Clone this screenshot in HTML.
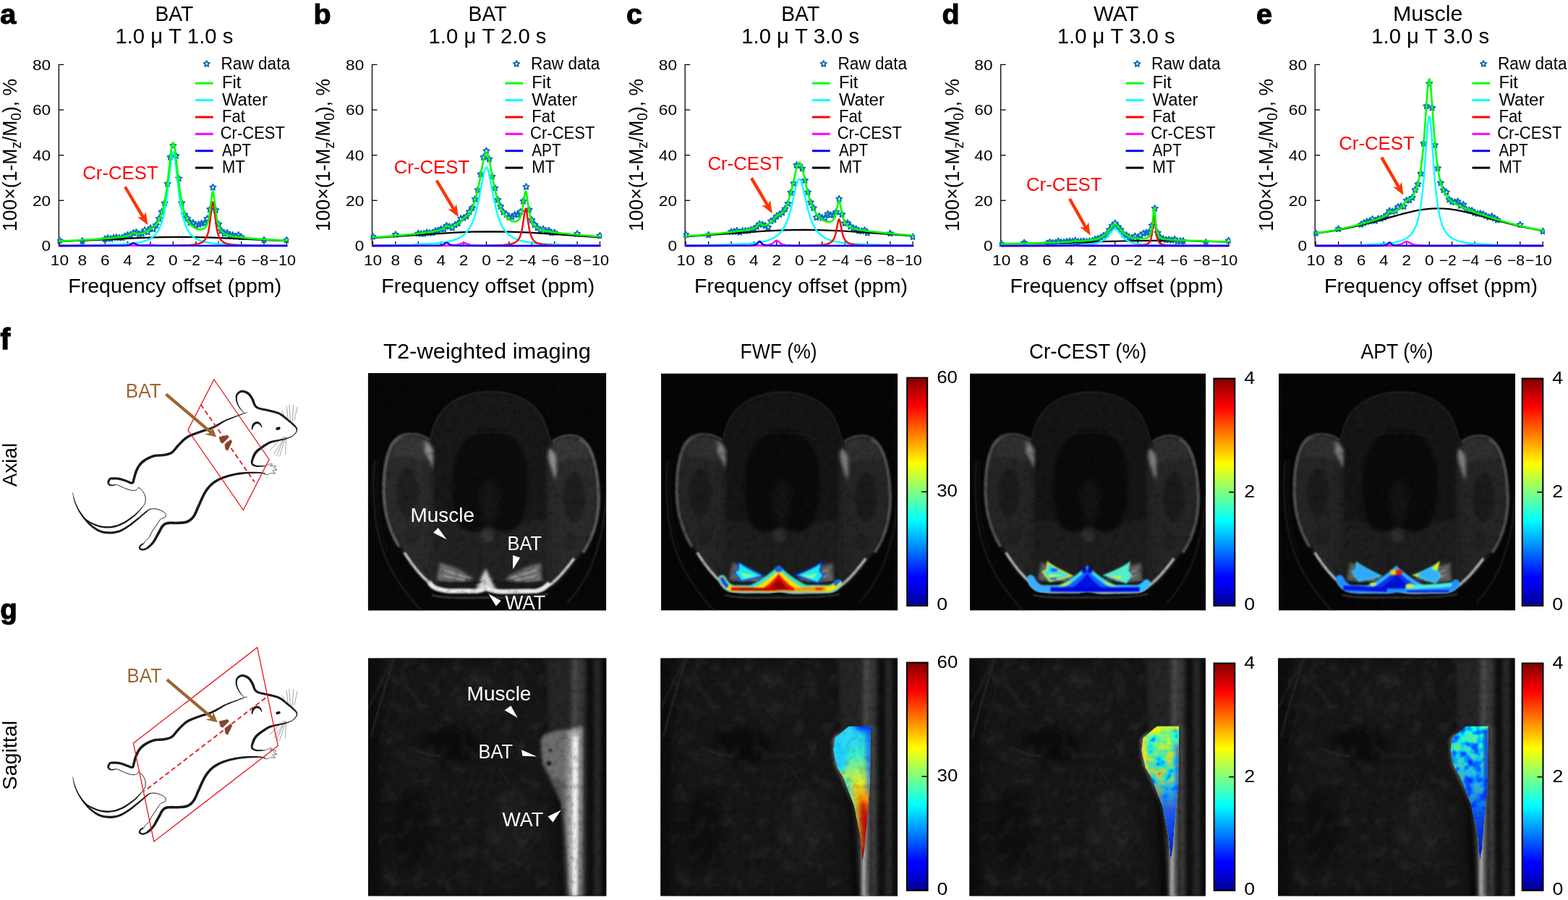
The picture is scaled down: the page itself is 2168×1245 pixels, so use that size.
<!DOCTYPE html>
<html><head><meta charset="utf-8"><style>
html,body{margin:0;padding:0;background:#fff;overflow:hidden;width:2168px;height:1245px;}
svg{display:block;}
text{font-family:"Liberation Sans","DejaVu Sans",sans-serif;}
</style></head><body>
<svg width="2168" height="1245" viewBox="0 0 2168 1245">
<defs><linearGradient id="jet" x1="0" y1="1" x2="0" y2="0"><stop offset="0" stop-color="#00008f"/><stop offset="0.11" stop-color="#0000ff"/><stop offset="0.125" stop-color="#0000ff"/><stop offset="0.375" stop-color="#00ffff"/><stop offset="0.625" stop-color="#ffff00"/><stop offset="0.875" stop-color="#ff0000"/><stop offset="1" stop-color="#800000"/></linearGradient></defs>
<rect width="2168" height="1245" fill="#fff"/>
<defs><path id="st" d="M0.0,-4.3 L1.2,-1.7 L4.1,-1.3 L2.0,0.6 L2.5,3.5 L0.0,2.1 L-2.5,3.5 L-2.0,0.6 L-4.1,-1.3 L-1.2,-1.7Z" fill="none" stroke="#0a6fbf" stroke-width="1.9" stroke-linejoin="round"/></defs><text x="0.3" y="33.2" font-size="39.5" font-weight="bold" stroke="#000" stroke-width="1.1">a</text>
<text x="240.9" y="29.0" font-size="29.5" text-anchor="middle" textLength="53.0" lengthAdjust="spacingAndGlyphs">BAT</text>
<text x="240.9" y="60.1" font-size="29.5" text-anchor="middle" textLength="163.0" lengthAdjust="spacingAndGlyphs">1.0 μ T 1.0 s</text>
<path d="M81.4,340.5 V89.3 h7" fill="none" stroke="#000" stroke-width="1.3"/>
<path d="M81.4,340.0 h7" stroke="#000" stroke-width="1.3"/>
<path d="M81.4,277.3 h7" stroke="#000" stroke-width="1.3"/>
<path d="M81.4,214.7 h7" stroke="#000" stroke-width="1.3"/>
<path d="M81.4,152.0 h7" stroke="#000" stroke-width="1.3"/>
<text x="70.2" y="347.2" font-size="20" text-anchor="end" textLength="12.6" lengthAdjust="spacingAndGlyphs">0</text>
<text x="70.2" y="284.5" font-size="20" text-anchor="end" textLength="25.2" lengthAdjust="spacingAndGlyphs">20</text>
<text x="70.2" y="221.8" font-size="20" text-anchor="end" textLength="25.2" lengthAdjust="spacingAndGlyphs">40</text>
<text x="70.2" y="159.2" font-size="20" text-anchor="end" textLength="25.2" lengthAdjust="spacingAndGlyphs">60</text>
<text x="70.2" y="96.5" font-size="20" text-anchor="end" textLength="25.2" lengthAdjust="spacingAndGlyphs">80</text>
<path d="M82.4,340.0 v-6" stroke="#000" stroke-width="1.3"/>
<text x="82.4" y="366.8" font-size="20" text-anchor="middle" textLength="25.2" lengthAdjust="spacingAndGlyphs">10</text>
<path d="M113.8,340.0 v-6" stroke="#000" stroke-width="1.3"/>
<text x="113.8" y="366.8" font-size="20" text-anchor="middle" textLength="12.6" lengthAdjust="spacingAndGlyphs">8</text>
<path d="M145.2,340.0 v-6" stroke="#000" stroke-width="1.3"/>
<text x="145.2" y="366.8" font-size="20" text-anchor="middle" textLength="12.6" lengthAdjust="spacingAndGlyphs">6</text>
<path d="M176.6,340.0 v-6" stroke="#000" stroke-width="1.3"/>
<text x="176.6" y="366.8" font-size="20" text-anchor="middle" textLength="12.6" lengthAdjust="spacingAndGlyphs">4</text>
<path d="M208.0,340.0 v-6" stroke="#000" stroke-width="1.3"/>
<text x="208.0" y="366.8" font-size="20" text-anchor="middle" textLength="12.6" lengthAdjust="spacingAndGlyphs">2</text>
<path d="M239.4,340.0 v-6" stroke="#000" stroke-width="1.3"/>
<text x="239.4" y="366.8" font-size="20" text-anchor="middle" textLength="12.6" lengthAdjust="spacingAndGlyphs">0</text>
<path d="M270.8,340.0 v-6" stroke="#000" stroke-width="1.3"/>
<text x="265.0" y="366.8" font-size="20" text-anchor="middle" textLength="24.1" lengthAdjust="spacingAndGlyphs">−2</text>
<path d="M302.2,340.0 v-6" stroke="#000" stroke-width="1.3"/>
<text x="296.4" y="366.8" font-size="20" text-anchor="middle" textLength="24.1" lengthAdjust="spacingAndGlyphs">−4</text>
<path d="M333.6,340.0 v-6" stroke="#000" stroke-width="1.3"/>
<text x="327.8" y="366.8" font-size="20" text-anchor="middle" textLength="24.1" lengthAdjust="spacingAndGlyphs">−6</text>
<path d="M365.0,340.0 v-6" stroke="#000" stroke-width="1.3"/>
<text x="359.2" y="366.8" font-size="20" text-anchor="middle" textLength="24.1" lengthAdjust="spacingAndGlyphs">−8</text>
<path d="M396.4,340.0 v-6" stroke="#000" stroke-width="1.3"/>
<text x="390.6" y="366.8" font-size="20" text-anchor="middle" textLength="36.7" lengthAdjust="spacingAndGlyphs">−10</text>
<text x="94.2" y="404.9" font-size="28" textLength="295.0" lengthAdjust="spacingAndGlyphs">Frequency offset (ppm)</text>
<text transform="translate(23.2,319.9) rotate(-90)" font-size="28"><tspan textLength="211" lengthAdjust="spacingAndGlyphs">100×(1-M<tspan font-size="20" dy="6">z</tspan><tspan dy="-6">/M</tspan><tspan font-size="20" dy="6">0</tspan><tspan dy="-6">), %</tspan></tspan></text>
<clipPath id="cpa"><rect x="79.4" y="80" width="319.8" height="264.0"/></clipPath>
<g clip-path="url(#cpa)" fill="none" stroke-linejoin="round" stroke-linecap="round">
<g><use href="#st" x="82.4" y="332.7"/><use href="#st" x="113.8" y="333.3"/><use href="#st" x="145.2" y="330.6"/><use href="#st" x="149.1" y="329.3"/><use href="#st" x="153.1" y="330.3"/><use href="#st" x="157.0" y="329.0"/><use href="#st" x="160.9" y="328.4"/><use href="#st" x="164.8" y="329.0"/><use href="#st" x="168.8" y="329.0"/><use href="#st" x="172.7" y="326.8"/><use href="#st" x="176.6" y="325.1"/><use href="#st" x="180.5" y="325.2"/><use href="#st" x="184.4" y="322.3"/><use href="#st" x="188.4" y="321.2"/><use href="#st" x="192.3" y="323.9"/><use href="#st" x="196.2" y="323.1"/><use href="#st" x="200.2" y="318.4"/><use href="#st" x="204.1" y="321.0"/><use href="#st" x="208.0" y="315.5"/><use href="#st" x="211.9" y="316.8"/><use href="#st" x="215.8" y="311.4"/><use href="#st" x="219.8" y="302.4"/><use href="#st" x="223.7" y="293.0"/><use href="#st" x="227.6" y="280.9"/><use href="#st" x="231.6" y="254.2"/><use href="#st" x="235.5" y="217.4"/><use href="#st" x="239.4" y="201.4"/><use href="#st" x="243.3" y="215.5"/><use href="#st" x="247.2" y="246.8"/><use href="#st" x="251.2" y="280.8"/><use href="#st" x="255.1" y="296.8"/><use href="#st" x="259.0" y="302.1"/><use href="#st" x="262.9" y="308.0"/><use href="#st" x="266.9" y="308.2"/><use href="#st" x="270.8" y="311.6"/><use href="#st" x="274.7" y="310.6"/><use href="#st" x="278.6" y="309.1"/><use href="#st" x="282.6" y="308.6"/><use href="#st" x="286.5" y="302.5"/><use href="#st" x="290.4" y="289.5"/><use href="#st" x="294.4" y="259.2"/><use href="#st" x="298.3" y="290.6"/><use href="#st" x="302.2" y="310.1"/><use href="#st" x="306.1" y="319.2"/><use href="#st" x="310.0" y="323.2"/><use href="#st" x="314.0" y="322.2"/><use href="#st" x="317.9" y="325.0"/><use href="#st" x="321.8" y="325.2"/><use href="#st" x="325.8" y="327.0"/><use href="#st" x="329.7" y="325.1"/><use href="#st" x="333.6" y="327.9"/><use href="#st" x="365.0" y="332.0"/><use href="#st" x="396.4" y="332.1"/></g>
<path d="M82.4,334.0 L117.7,332.6 L198.6,328.8 L222.9,328.1 L244.9,327.8 L268.4,328.0 L293.6,328.7 L396.4,333.4" stroke="#000" stroke-width="2.2"/>
<path d="M82.4,339.6 L119.3,339.3 L146.0,338.8 L165.6,338.1 L179.7,337.1 L190.7,335.7 L195.4,334.7 L199.4,333.7 L203.3,332.3 L206.4,330.9 L209.6,329.1 L211.9,327.3 L214.3,325.1 L215.8,323.3 L218.2,320.0 L219.8,317.3 L221.3,314.0 L222.9,310.0 L224.5,305.1 L226.1,299.2 L228.4,287.6 L230.8,272.1 L232.3,259.3 L235.5,230.6 L237.0,218.2 L237.8,213.8 L238.6,210.9 L239.4,209.9 L240.2,210.9 L241.0,213.8 L241.8,218.2 L243.3,230.6 L246.5,259.3 L248.0,272.1 L250.4,287.6 L252.7,299.2 L254.3,305.1 L255.9,310.0 L257.5,314.0 L259.0,317.3 L260.6,320.0 L262.9,323.3 L264.5,325.1 L266.9,327.3 L269.2,329.1 L272.4,330.9 L275.5,332.3 L279.4,333.7 L283.4,334.7 L288.1,335.7 L299.1,337.1 L313.2,338.1 L332.8,338.8 L359.5,339.3 L396.4,339.6" stroke="#00ffff" stroke-width="2.4"/>
<path d="M82.4,340.0 L195.4,339.9 L241.0,339.6 L253.5,339.3 L262.9,338.9 L270.0,338.2 L274.7,337.2 L278.6,335.7 L280.2,334.8 L281.8,333.6 L284.1,330.8 L285.7,327.9 L286.5,326.0 L288.1,320.6 L289.6,312.4 L292.8,286.6 L293.6,281.5 L294.4,279.5 L295.1,281.5 L295.9,286.6 L299.1,312.4 L299.8,316.9 L301.4,323.6 L303.0,327.9 L304.6,330.8 L306.9,333.6 L309.3,335.3 L312.4,336.7 L316.3,337.8 L321.8,338.5 L328.9,339.1 L350.9,339.6 L396.4,339.9" stroke="#ff0000" stroke-width="2.4"/>
<path d="M82.4,340.0 L189.2,339.9 L199.4,339.5 L208.0,338.4 L216.6,339.5 L229.2,339.9 L396.4,340.0" stroke="#ff00ff" stroke-width="2.4"/>
<path d="M82.4,340.0 L150.7,339.9 L170.3,339.7 L175.0,339.4 L178.2,338.9 L180.5,338.1 L183.7,336.4 L184.4,336.2 L185.2,336.4 L189.2,338.5 L191.5,339.1 L195.4,339.6 L202.5,339.8 L396.4,340.0" stroke="#0000ff" stroke-width="2.4"/>
<path d="M82.4,333.6 L111.4,332.2 L137.3,330.6 L157.8,328.9 L171.1,327.4 L175.0,326.6 L178.2,325.7 L180.5,324.6 L183.7,322.3 L184.4,322.0 L185.2,322.0 L188.4,323.2 L190.7,323.5 L193.9,323.2 L197.8,322.2 L200.9,321.0 L203.3,319.8 L211.1,314.9 L213.5,313.2 L215.8,310.8 L217.4,308.8 L219.8,304.9 L221.3,301.6 L222.9,297.6 L224.5,292.7 L226.8,283.3 L229.2,270.4 L230.8,259.6 L232.3,246.8 L235.5,218.1 L237.0,205.6 L237.8,201.2 L238.6,198.3 L239.4,197.3 L240.2,198.3 L241.0,201.1 L241.8,205.6 L243.3,217.9 L246.5,246.6 L248.0,259.3 L249.6,270.1 L252.0,282.8 L254.3,292.2 L255.9,297.0 L257.5,301.0 L259.0,304.2 L261.4,308.1 L262.9,310.1 L265.3,312.5 L267.7,314.4 L270.8,316.1 L273.9,317.2 L277.1,317.6 L279.4,317.3 L281.8,316.3 L283.4,315.0 L284.9,313.0 L286.5,309.8 L287.3,307.6 L288.9,301.3 L290.4,291.5 L292.8,271.6 L293.6,266.6 L294.4,264.8 L295.1,266.9 L295.9,272.1 L299.1,298.4 L299.8,303.0 L301.4,309.9 L303.0,314.4 L304.6,317.5 L306.9,320.6 L309.3,322.5 L312.4,324.3 L317.1,325.9 L323.4,327.2 L331.2,328.3 L342.2,329.4 L357.1,330.6 L396.4,332.9" stroke="#00ff00" stroke-width="2.6"/>
</g>
<use href="#st" x="285.7" y="88.3"/>
<text x="305.5" y="95.7" font-size="23" textLength="95.5" lengthAdjust="spacingAndGlyphs">Raw data</text>
<path d="M270.0,115.2 h24.7" stroke="#00ff00" stroke-width="3"/>
<text x="306.9" y="122.1" font-size="23" textLength="26.5" lengthAdjust="spacingAndGlyphs">Fit</text>
<path d="M270.0,138.6 h24.7" stroke="#00ffff" stroke-width="3"/>
<text x="306.9" y="145.5" font-size="23" textLength="63.0" lengthAdjust="spacingAndGlyphs">Water</text>
<path d="M270.0,162.0 h24.7" stroke="#ff0000" stroke-width="3"/>
<text x="306.9" y="168.9" font-size="23" textLength="32.0" lengthAdjust="spacingAndGlyphs">Fat</text>
<path d="M270.0,185.3 h24.7" stroke="#ff00ff" stroke-width="3"/>
<text x="304.7" y="192.2" font-size="23" textLength="89.3" lengthAdjust="spacingAndGlyphs">Cr-CEST</text>
<path d="M270.0,208.7 h24.7" stroke="#0000ff" stroke-width="3"/>
<text x="306.9" y="215.6" font-size="23" textLength="40.3" lengthAdjust="spacingAndGlyphs">APT</text>
<path d="M270.0,232.1 h24.7" stroke="#000000" stroke-width="3"/>
<text x="306.9" y="239.0" font-size="23" textLength="31.8" lengthAdjust="spacingAndGlyphs">MT</text>
<text x="114.2" y="248.4" font-size="26.5" textLength="104.5" lengthAdjust="spacingAndGlyphs" fill="#ff0000">Cr-CEST</text>
<polygon points="171.2,259.6 195.4,300.4 189.9,300.2 204.4,311.3 201.6,293.2 199.1,298.2 174.8,257.4" fill="#ff3300"/>
<text x="433.4" y="33.2" font-size="39.5" font-weight="bold" stroke="#000" stroke-width="1.1">b</text>
<text x="674.0" y="29.0" font-size="29.5" text-anchor="middle" textLength="53.0" lengthAdjust="spacingAndGlyphs">BAT</text>
<text x="674.0" y="60.1" font-size="29.5" text-anchor="middle" textLength="163.0" lengthAdjust="spacingAndGlyphs">1.0 μ T 2.0 s</text>
<path d="M514.5,340.5 V89.3 h7" fill="none" stroke="#000" stroke-width="1.3"/>
<path d="M514.5,340.0 h7" stroke="#000" stroke-width="1.3"/>
<path d="M514.5,277.3 h7" stroke="#000" stroke-width="1.3"/>
<path d="M514.5,214.7 h7" stroke="#000" stroke-width="1.3"/>
<path d="M514.5,152.0 h7" stroke="#000" stroke-width="1.3"/>
<text x="503.3" y="347.2" font-size="20" text-anchor="end" textLength="12.6" lengthAdjust="spacingAndGlyphs">0</text>
<text x="503.3" y="284.5" font-size="20" text-anchor="end" textLength="25.2" lengthAdjust="spacingAndGlyphs">20</text>
<text x="503.3" y="221.8" font-size="20" text-anchor="end" textLength="25.2" lengthAdjust="spacingAndGlyphs">40</text>
<text x="503.3" y="159.2" font-size="20" text-anchor="end" textLength="25.2" lengthAdjust="spacingAndGlyphs">60</text>
<text x="503.3" y="96.5" font-size="20" text-anchor="end" textLength="25.2" lengthAdjust="spacingAndGlyphs">80</text>
<path d="M515.5,340.0 v-6" stroke="#000" stroke-width="1.3"/>
<text x="515.5" y="366.8" font-size="20" text-anchor="middle" textLength="25.2" lengthAdjust="spacingAndGlyphs">10</text>
<path d="M546.9,340.0 v-6" stroke="#000" stroke-width="1.3"/>
<text x="546.9" y="366.8" font-size="20" text-anchor="middle" textLength="12.6" lengthAdjust="spacingAndGlyphs">8</text>
<path d="M578.3,340.0 v-6" stroke="#000" stroke-width="1.3"/>
<text x="578.3" y="366.8" font-size="20" text-anchor="middle" textLength="12.6" lengthAdjust="spacingAndGlyphs">6</text>
<path d="M609.7,340.0 v-6" stroke="#000" stroke-width="1.3"/>
<text x="609.7" y="366.8" font-size="20" text-anchor="middle" textLength="12.6" lengthAdjust="spacingAndGlyphs">4</text>
<path d="M641.1,340.0 v-6" stroke="#000" stroke-width="1.3"/>
<text x="641.1" y="366.8" font-size="20" text-anchor="middle" textLength="12.6" lengthAdjust="spacingAndGlyphs">2</text>
<path d="M672.5,340.0 v-6" stroke="#000" stroke-width="1.3"/>
<text x="672.5" y="366.8" font-size="20" text-anchor="middle" textLength="12.6" lengthAdjust="spacingAndGlyphs">0</text>
<path d="M703.9,340.0 v-6" stroke="#000" stroke-width="1.3"/>
<text x="698.1" y="366.8" font-size="20" text-anchor="middle" textLength="24.1" lengthAdjust="spacingAndGlyphs">−2</text>
<path d="M735.3,340.0 v-6" stroke="#000" stroke-width="1.3"/>
<text x="729.5" y="366.8" font-size="20" text-anchor="middle" textLength="24.1" lengthAdjust="spacingAndGlyphs">−4</text>
<path d="M766.7,340.0 v-6" stroke="#000" stroke-width="1.3"/>
<text x="760.9" y="366.8" font-size="20" text-anchor="middle" textLength="24.1" lengthAdjust="spacingAndGlyphs">−6</text>
<path d="M798.1,340.0 v-6" stroke="#000" stroke-width="1.3"/>
<text x="792.3" y="366.8" font-size="20" text-anchor="middle" textLength="24.1" lengthAdjust="spacingAndGlyphs">−8</text>
<path d="M829.5,340.0 v-6" stroke="#000" stroke-width="1.3"/>
<text x="823.7" y="366.8" font-size="20" text-anchor="middle" textLength="36.7" lengthAdjust="spacingAndGlyphs">−10</text>
<text x="527.3" y="404.9" font-size="28" textLength="295.0" lengthAdjust="spacingAndGlyphs">Frequency offset (ppm)</text>
<text transform="translate(456.3,319.9) rotate(-90)" font-size="28"><tspan textLength="211" lengthAdjust="spacingAndGlyphs">100×(1-M<tspan font-size="20" dy="6">z</tspan><tspan dy="-6">/M</tspan><tspan font-size="20" dy="6">0</tspan><tspan dy="-6">), %</tspan></tspan></text>
<clipPath id="cpb"><rect x="512.5" y="80" width="319.8" height="264.0"/></clipPath>
<g clip-path="url(#cpb)" fill="none" stroke-linejoin="round" stroke-linecap="round">
<g><use href="#st" x="515.5" y="327.2"/><use href="#st" x="546.9" y="324.5"/><use href="#st" x="578.3" y="322.9"/><use href="#st" x="582.2" y="323.4"/><use href="#st" x="586.1" y="323.3"/><use href="#st" x="590.1" y="321.5"/><use href="#st" x="594.0" y="322.1"/><use href="#st" x="597.9" y="322.0"/><use href="#st" x="601.9" y="319.4"/><use href="#st" x="605.8" y="318.7"/><use href="#st" x="609.7" y="317.0"/><use href="#st" x="613.6" y="316.8"/><use href="#st" x="617.5" y="312.2"/><use href="#st" x="621.5" y="313.5"/><use href="#st" x="625.4" y="315.2"/><use href="#st" x="629.3" y="311.1"/><use href="#st" x="633.2" y="309.0"/><use href="#st" x="637.2" y="302.4"/><use href="#st" x="641.1" y="301.5"/><use href="#st" x="645.0" y="299.2"/><use href="#st" x="649.0" y="292.8"/><use href="#st" x="652.9" y="287.5"/><use href="#st" x="656.8" y="275.4"/><use href="#st" x="660.7" y="262.8"/><use href="#st" x="664.6" y="241.0"/><use href="#st" x="668.6" y="217.5"/><use href="#st" x="672.5" y="208.7"/><use href="#st" x="676.4" y="220.1"/><use href="#st" x="680.4" y="244.2"/><use href="#st" x="684.3" y="260.2"/><use href="#st" x="688.2" y="276.3"/><use href="#st" x="692.1" y="285.5"/><use href="#st" x="696.0" y="293.4"/><use href="#st" x="700.0" y="296.4"/><use href="#st" x="703.9" y="300.4"/><use href="#st" x="707.8" y="300.0"/><use href="#st" x="711.8" y="297.0"/><use href="#st" x="715.7" y="297.0"/><use href="#st" x="719.6" y="292.9"/><use href="#st" x="723.5" y="278.2"/><use href="#st" x="727.5" y="258.4"/><use href="#st" x="731.4" y="290.0"/><use href="#st" x="735.3" y="304.3"/><use href="#st" x="739.2" y="310.7"/><use href="#st" x="743.1" y="315.1"/><use href="#st" x="747.1" y="318.6"/><use href="#st" x="751.0" y="316.8"/><use href="#st" x="754.9" y="319.5"/><use href="#st" x="758.9" y="319.0"/><use href="#st" x="762.8" y="322.1"/><use href="#st" x="766.7" y="321.7"/><use href="#st" x="798.1" y="323.4"/><use href="#st" x="829.5" y="325.9"/></g>
<path d="M515.5,329.2 L626.2,321.9 L652.9,320.7 L678.0,320.3 L703.9,320.6 L731.4,321.7 L757.3,323.3 L829.5,328.3" stroke="#000" stroke-width="2.2"/>
<path d="M515.5,339.3 L547.7,338.9 L571.2,338.4 L590.1,337.5 L604.2,336.5 L616.0,334.9 L620.7,334.0 L625.4,332.8 L629.3,331.5 L632.5,330.3 L635.6,328.7 L638.7,326.8 L641.1,325.0 L643.5,322.9 L645.8,320.3 L648.2,317.2 L650.5,313.3 L652.1,310.2 L655.2,302.5 L658.4,292.1 L660.7,282.3 L663.1,270.6 L667.8,244.9 L669.4,238.0 L670.9,233.2 L671.7,232.0 L672.5,231.6 L673.3,232.0 L674.1,233.2 L675.6,238.0 L677.2,244.9 L681.9,270.6 L684.3,282.3 L686.6,292.1 L689.8,302.5 L692.9,310.2 L694.5,313.3 L696.8,317.2 L699.2,320.3 L701.5,322.9 L703.9,325.0 L706.3,326.8 L709.4,328.7 L712.5,330.3 L715.7,331.5 L719.6,332.8 L724.3,334.0 L729.0,334.9 L740.8,336.5 L754.9,337.5 L773.8,338.4 L797.3,338.9 L829.5,339.3" stroke="#00ffff" stroke-width="2.4"/>
<path d="M515.5,340.0 L627.0,339.9 L672.5,339.7 L685.8,339.4 L695.3,339.0 L702.3,338.3 L707.0,337.5 L711.0,336.2 L714.1,334.3 L716.5,331.9 L718.0,329.4 L718.8,327.8 L720.4,323.3 L722.0,316.5 L723.5,306.7 L725.1,295.3 L725.9,290.8 L726.7,288.7 L727.5,289.6 L728.2,293.3 L731.4,314.8 L732.2,318.8 L733.7,324.8 L735.3,328.8 L736.9,331.5 L739.2,334.1 L740.8,335.2 L742.4,336.1 L745.5,337.2 L750.2,338.2 L755.7,338.8 L762.8,339.2 L784.8,339.7 L829.5,339.9" stroke="#ff0000" stroke-width="2.4"/>
<path d="M515.5,340.0 L595.6,339.9 L620.7,339.6 L627.0,339.3 L631.7,338.7 L634.8,338.0 L639.5,336.2 L641.1,335.9 L642.7,336.2 L648.2,338.2 L651.3,338.9 L656.8,339.4 L664.6,339.7 L699.2,340.0 L829.5,340.0" stroke="#ff00ff" stroke-width="2.4"/>
<path d="M515.5,340.0 L585.4,339.9 L604.2,339.7 L608.9,339.4 L612.1,338.7 L613.6,338.0 L616.8,335.8 L617.5,335.6 L618.3,335.8 L621.5,338.0 L623.8,338.9 L627.8,339.5 L634.8,339.8 L667.0,340.0 L829.5,340.0" stroke="#0000ff" stroke-width="2.4"/>
<path d="M515.5,328.5 L540.6,326.6 L563.4,324.6 L582.2,322.6 L597.1,320.5 L605.0,319.0 L610.5,317.4 L612.1,316.7 L613.6,315.7 L616.8,312.7 L617.5,312.3 L618.3,312.3 L621.5,313.5 L623.0,313.7 L624.6,313.5 L627.0,312.9 L629.3,311.9 L633.2,309.5 L635.6,307.5 L641.1,301.9 L645.8,298.5 L648.2,296.0 L649.7,293.9 L651.3,291.2 L654.4,284.3 L657.6,274.8 L660.7,262.1 L663.1,250.5 L667.8,224.8 L669.4,217.8 L670.9,213.0 L671.7,211.8 L672.5,211.3 L673.3,211.8 L674.1,213.0 L675.6,217.7 L677.2,224.7 L681.9,250.3 L684.3,261.9 L686.6,271.7 L689.0,279.7 L692.1,287.9 L695.3,294.0 L696.8,296.4 L699.2,299.4 L700.8,301.1 L703.1,303.1 L705.5,304.7 L707.8,305.8 L710.2,306.4 L711.8,306.6 L713.3,306.4 L714.9,305.8 L716.5,304.7 L718.0,302.8 L719.6,299.7 L721.2,294.6 L722.7,286.8 L725.1,270.8 L725.9,266.5 L726.7,264.6 L727.5,265.7 L728.2,269.6 L731.4,291.7 L732.2,295.9 L733.7,302.3 L735.3,306.5 L736.9,309.5 L739.2,312.5 L742.4,315.0 L746.3,316.9 L751.0,318.5 L757.3,319.9 L765.9,321.3 L777.7,322.8 L792.6,324.3 L829.5,327.5" stroke="#00ff00" stroke-width="2.6"/>
</g>
<use href="#st" x="714.1" y="88.3"/>
<text x="733.9" y="95.7" font-size="23" textLength="95.5" lengthAdjust="spacingAndGlyphs">Raw data</text>
<path d="M698.4,115.2 h24.7" stroke="#00ff00" stroke-width="3"/>
<text x="735.3" y="122.1" font-size="23" textLength="26.5" lengthAdjust="spacingAndGlyphs">Fit</text>
<path d="M698.4,138.6 h24.7" stroke="#00ffff" stroke-width="3"/>
<text x="735.3" y="145.5" font-size="23" textLength="63.0" lengthAdjust="spacingAndGlyphs">Water</text>
<path d="M698.4,162.0 h24.7" stroke="#ff0000" stroke-width="3"/>
<text x="735.3" y="168.9" font-size="23" textLength="32.0" lengthAdjust="spacingAndGlyphs">Fat</text>
<path d="M698.4,185.3 h24.7" stroke="#ff00ff" stroke-width="3"/>
<text x="733.1" y="192.2" font-size="23" textLength="89.3" lengthAdjust="spacingAndGlyphs">Cr-CEST</text>
<path d="M698.4,208.7 h24.7" stroke="#0000ff" stroke-width="3"/>
<text x="735.3" y="215.6" font-size="23" textLength="40.3" lengthAdjust="spacingAndGlyphs">APT</text>
<path d="M698.4,232.1 h24.7" stroke="#000000" stroke-width="3"/>
<text x="735.3" y="239.0" font-size="23" textLength="31.8" lengthAdjust="spacingAndGlyphs">MT</text>
<text x="544.7" y="240.2" font-size="26.5" textLength="104.5" lengthAdjust="spacingAndGlyphs" fill="#ff0000">Cr-CEST</text>
<polygon points="601.9,250.8 625.0,289.4 619.4,289.2 634.0,300.3 631.1,282.2 628.7,287.2 605.5,248.6" fill="#ff3300"/>
<text x="866.1" y="33.2" font-size="39.5" font-weight="bold" stroke="#000" stroke-width="1.1">c</text>
<text x="1106.7" y="29.0" font-size="29.5" text-anchor="middle" textLength="53.0" lengthAdjust="spacingAndGlyphs">BAT</text>
<text x="1106.7" y="60.1" font-size="29.5" text-anchor="middle" textLength="163.0" lengthAdjust="spacingAndGlyphs">1.0 μ T 3.0 s</text>
<path d="M947.2,340.5 V89.3 h7" fill="none" stroke="#000" stroke-width="1.3"/>
<path d="M947.2,340.0 h7" stroke="#000" stroke-width="1.3"/>
<path d="M947.2,277.3 h7" stroke="#000" stroke-width="1.3"/>
<path d="M947.2,214.7 h7" stroke="#000" stroke-width="1.3"/>
<path d="M947.2,152.0 h7" stroke="#000" stroke-width="1.3"/>
<text x="936.0" y="347.2" font-size="20" text-anchor="end" textLength="12.6" lengthAdjust="spacingAndGlyphs">0</text>
<text x="936.0" y="284.5" font-size="20" text-anchor="end" textLength="25.2" lengthAdjust="spacingAndGlyphs">20</text>
<text x="936.0" y="221.8" font-size="20" text-anchor="end" textLength="25.2" lengthAdjust="spacingAndGlyphs">40</text>
<text x="936.0" y="159.2" font-size="20" text-anchor="end" textLength="25.2" lengthAdjust="spacingAndGlyphs">60</text>
<text x="936.0" y="96.5" font-size="20" text-anchor="end" textLength="25.2" lengthAdjust="spacingAndGlyphs">80</text>
<path d="M948.2,340.0 v-6" stroke="#000" stroke-width="1.3"/>
<text x="948.2" y="366.8" font-size="20" text-anchor="middle" textLength="25.2" lengthAdjust="spacingAndGlyphs">10</text>
<path d="M979.6,340.0 v-6" stroke="#000" stroke-width="1.3"/>
<text x="979.6" y="366.8" font-size="20" text-anchor="middle" textLength="12.6" lengthAdjust="spacingAndGlyphs">8</text>
<path d="M1011.0,340.0 v-6" stroke="#000" stroke-width="1.3"/>
<text x="1011.0" y="366.8" font-size="20" text-anchor="middle" textLength="12.6" lengthAdjust="spacingAndGlyphs">6</text>
<path d="M1042.4,340.0 v-6" stroke="#000" stroke-width="1.3"/>
<text x="1042.4" y="366.8" font-size="20" text-anchor="middle" textLength="12.6" lengthAdjust="spacingAndGlyphs">4</text>
<path d="M1073.8,340.0 v-6" stroke="#000" stroke-width="1.3"/>
<text x="1073.8" y="366.8" font-size="20" text-anchor="middle" textLength="12.6" lengthAdjust="spacingAndGlyphs">2</text>
<path d="M1105.2,340.0 v-6" stroke="#000" stroke-width="1.3"/>
<text x="1105.2" y="366.8" font-size="20" text-anchor="middle" textLength="12.6" lengthAdjust="spacingAndGlyphs">0</text>
<path d="M1136.6,340.0 v-6" stroke="#000" stroke-width="1.3"/>
<text x="1130.8" y="366.8" font-size="20" text-anchor="middle" textLength="24.1" lengthAdjust="spacingAndGlyphs">−2</text>
<path d="M1168.0,340.0 v-6" stroke="#000" stroke-width="1.3"/>
<text x="1162.2" y="366.8" font-size="20" text-anchor="middle" textLength="24.1" lengthAdjust="spacingAndGlyphs">−4</text>
<path d="M1199.4,340.0 v-6" stroke="#000" stroke-width="1.3"/>
<text x="1193.6" y="366.8" font-size="20" text-anchor="middle" textLength="24.1" lengthAdjust="spacingAndGlyphs">−6</text>
<path d="M1230.8,340.0 v-6" stroke="#000" stroke-width="1.3"/>
<text x="1225.0" y="366.8" font-size="20" text-anchor="middle" textLength="24.1" lengthAdjust="spacingAndGlyphs">−8</text>
<path d="M1262.2,340.0 v-6" stroke="#000" stroke-width="1.3"/>
<text x="1256.4" y="366.8" font-size="20" text-anchor="middle" textLength="36.7" lengthAdjust="spacingAndGlyphs">−10</text>
<text x="960.0" y="404.9" font-size="28" textLength="295.0" lengthAdjust="spacingAndGlyphs">Frequency offset (ppm)</text>
<text transform="translate(889.0,319.9) rotate(-90)" font-size="28"><tspan textLength="211" lengthAdjust="spacingAndGlyphs">100×(1-M<tspan font-size="20" dy="6">z</tspan><tspan dy="-6">/M</tspan><tspan font-size="20" dy="6">0</tspan><tspan dy="-6">), %</tspan></tspan></text>
<clipPath id="cpc"><rect x="945.2" y="80" width="319.8" height="264.0"/></clipPath>
<g clip-path="url(#cpc)" fill="none" stroke-linejoin="round" stroke-linecap="round">
<g><use href="#st" x="948.2" y="324.4"/><use href="#st" x="979.6" y="325.0"/><use href="#st" x="1011.0" y="320.6"/><use href="#st" x="1014.9" y="320.4"/><use href="#st" x="1018.9" y="319.1"/><use href="#st" x="1022.8" y="321.3"/><use href="#st" x="1026.7" y="319.5"/><use href="#st" x="1030.6" y="319.3"/><use href="#st" x="1034.5" y="319.1"/><use href="#st" x="1038.5" y="317.9"/><use href="#st" x="1042.4" y="316.4"/><use href="#st" x="1046.3" y="313.7"/><use href="#st" x="1050.2" y="309.8"/><use href="#st" x="1054.2" y="310.7"/><use href="#st" x="1058.1" y="312.2"/><use href="#st" x="1062.0" y="314.5"/><use href="#st" x="1066.0" y="305.9"/><use href="#st" x="1069.9" y="303.8"/><use href="#st" x="1073.8" y="299.1"/><use href="#st" x="1077.7" y="296.6"/><use href="#st" x="1081.7" y="294.2"/><use href="#st" x="1085.6" y="288.8"/><use href="#st" x="1089.5" y="281.5"/><use href="#st" x="1093.4" y="266.3"/><use href="#st" x="1097.4" y="253.7"/><use href="#st" x="1101.3" y="228.4"/><use href="#st" x="1105.2" y="228.7"/><use href="#st" x="1109.1" y="233.1"/><use href="#st" x="1113.0" y="249.5"/><use href="#st" x="1117.0" y="265.9"/><use href="#st" x="1120.9" y="279.9"/><use href="#st" x="1124.8" y="287.7"/><use href="#st" x="1128.8" y="300.8"/><use href="#st" x="1132.7" y="299.1"/><use href="#st" x="1136.6" y="301.3"/><use href="#st" x="1140.5" y="301.7"/><use href="#st" x="1144.5" y="296.0"/><use href="#st" x="1148.4" y="297.4"/><use href="#st" x="1152.3" y="297.1"/><use href="#st" x="1156.2" y="293.2"/><use href="#st" x="1160.2" y="275.2"/><use href="#st" x="1164.1" y="296.6"/><use href="#st" x="1168.0" y="308.8"/><use href="#st" x="1171.9" y="308.5"/><use href="#st" x="1175.8" y="313.2"/><use href="#st" x="1179.8" y="315.7"/><use href="#st" x="1183.7" y="316.6"/><use href="#st" x="1187.6" y="319.5"/><use href="#st" x="1191.5" y="319.7"/><use href="#st" x="1195.5" y="318.5"/><use href="#st" x="1199.4" y="322.1"/><use href="#st" x="1230.8" y="322.8"/><use href="#st" x="1262.2" y="327.7"/></g>
<path d="M948.2,327.5 L1033.0,321.3 L1057.3,319.7 L1084.8,318.4 L1110.7,317.9 L1137.4,318.3 L1165.6,319.5 L1193.1,321.3 L1262.2,326.4" stroke="#000" stroke-width="2.2"/>
<path d="M948.2,339.4 L980.4,339.0 L1003.9,338.5 L1022.0,337.8 L1036.1,336.9 L1047.1,335.6 L1056.5,333.9 L1060.5,332.9 L1064.4,331.5 L1067.5,330.2 L1070.7,328.6 L1075.4,325.3 L1077.7,323.2 L1080.1,320.6 L1082.4,317.4 L1084.0,314.9 L1087.1,308.6 L1090.3,300.3 L1092.6,292.4 L1095.0,283.0 L1099.7,261.7 L1101.3,255.3 L1102.8,250.5 L1103.6,248.9 L1104.4,247.9 L1105.2,247.6 L1106.0,247.9 L1106.8,248.9 L1107.6,250.5 L1109.1,255.3 L1110.7,261.7 L1115.4,283.0 L1117.8,292.4 L1120.1,300.3 L1123.3,308.6 L1126.4,314.9 L1128.0,317.4 L1130.3,320.6 L1132.7,323.2 L1135.0,325.3 L1139.7,328.6 L1142.9,330.2 L1146.0,331.5 L1149.9,332.9 L1153.9,333.9 L1163.3,335.6 L1174.3,336.9 L1188.4,337.8 L1206.5,338.5 L1230.0,339.0 L1262.2,339.4" stroke="#00ffff" stroke-width="2.4"/>
<path d="M948.2,340.0 L1106.8,339.8 L1128.8,339.3 L1135.8,338.9 L1140.5,338.3 L1144.5,337.4 L1147.6,336.1 L1149.9,334.4 L1151.5,332.7 L1152.3,331.5 L1153.9,328.2 L1155.4,323.3 L1158.6,307.6 L1159.4,304.5 L1160.2,303.3 L1160.9,304.5 L1161.7,307.6 L1164.9,323.3 L1165.6,326.0 L1167.2,330.0 L1168.8,332.7 L1170.4,334.4 L1172.7,336.1 L1175.1,337.2 L1178.2,338.0 L1182.1,338.6 L1187.6,339.1 L1194.7,339.4 L1216.7,339.8 L1262.2,339.9" stroke="#ff0000" stroke-width="2.4"/>
<path d="M948.2,340.0 L1031.4,339.9 L1047.1,339.7 L1055.7,339.5 L1062.0,338.9 L1066.0,337.9 L1067.5,337.1 L1069.1,336.1 L1072.2,333.4 L1073.0,333.0 L1073.8,332.8 L1074.6,333.0 L1075.4,333.4 L1079.3,336.7 L1082.4,338.1 L1087.1,339.1 L1094.2,339.6 L1126.4,339.9 L1262.2,340.0" stroke="#ff00ff" stroke-width="2.4"/>
<path d="M948.2,340.0 L1020.4,339.9 L1038.5,339.6 L1042.4,339.1 L1044.0,338.7 L1045.5,338.1 L1047.1,336.9 L1049.5,334.1 L1050.2,333.7 L1051.0,334.1 L1054.2,337.6 L1055.7,338.5 L1057.3,339.0 L1059.7,339.4 L1066.0,339.8 L1096.6,340.0 L1262.2,340.0" stroke="#0000ff" stroke-width="2.4"/>
<path d="M948.2,326.8 L972.5,324.9 L995.3,322.8 L1014.1,320.7 L1029.1,318.7 L1037.7,317.1 L1040.8,316.3 L1043.2,315.4 L1044.8,314.6 L1046.3,313.4 L1049.5,309.2 L1050.2,308.6 L1051.0,308.8 L1053.4,310.9 L1054.2,311.3 L1055.0,311.6 L1056.5,311.7 L1058.1,311.5 L1060.5,310.8 L1064.4,308.8 L1066.7,307.0 L1068.3,305.3 L1072.2,299.7 L1073.8,298.0 L1075.4,297.3 L1078.5,296.9 L1080.1,296.1 L1081.7,294.7 L1084.0,291.7 L1086.4,287.5 L1089.5,279.9 L1092.6,269.8 L1095.0,260.5 L1100.5,235.9 L1102.1,230.2 L1103.6,226.4 L1104.4,225.4 L1105.2,225.1 L1106.0,225.4 L1106.8,226.4 L1107.6,228.0 L1109.1,232.8 L1117.0,266.8 L1119.3,275.2 L1122.5,284.1 L1125.6,290.8 L1128.8,295.8 L1130.3,297.9 L1132.7,300.4 L1136.6,303.6 L1139.0,304.9 L1141.3,306.0 L1143.7,306.7 L1145.2,306.9 L1146.8,306.9 L1148.4,306.6 L1149.9,306.0 L1151.5,304.7 L1153.1,302.6 L1154.7,299.0 L1156.2,293.3 L1158.6,281.6 L1159.4,278.6 L1160.2,277.6 L1160.9,279.0 L1161.7,282.3 L1164.9,298.5 L1165.6,301.4 L1167.2,305.7 L1168.8,308.6 L1170.4,310.7 L1172.7,312.7 L1175.8,314.5 L1179.8,315.9 L1184.5,317.1 L1191.5,318.4 L1200.2,319.7 L1226.9,322.6 L1262.2,325.7" stroke="#00ff00" stroke-width="2.6"/>
</g>
<use href="#st" x="1138.7" y="88.3"/>
<text x="1158.5" y="95.7" font-size="23" textLength="95.5" lengthAdjust="spacingAndGlyphs">Raw data</text>
<path d="M1123.0,115.2 h24.7" stroke="#00ff00" stroke-width="3"/>
<text x="1159.9" y="122.1" font-size="23" textLength="26.5" lengthAdjust="spacingAndGlyphs">Fit</text>
<path d="M1123.0,138.6 h24.7" stroke="#00ffff" stroke-width="3"/>
<text x="1159.9" y="145.5" font-size="23" textLength="63.0" lengthAdjust="spacingAndGlyphs">Water</text>
<path d="M1123.0,162.0 h24.7" stroke="#ff0000" stroke-width="3"/>
<text x="1159.9" y="168.9" font-size="23" textLength="32.0" lengthAdjust="spacingAndGlyphs">Fat</text>
<path d="M1123.0,185.3 h24.7" stroke="#ff00ff" stroke-width="3"/>
<text x="1157.7" y="192.2" font-size="23" textLength="89.3" lengthAdjust="spacingAndGlyphs">Cr-CEST</text>
<path d="M1123.0,208.7 h24.7" stroke="#0000ff" stroke-width="3"/>
<text x="1159.9" y="215.6" font-size="23" textLength="40.3" lengthAdjust="spacingAndGlyphs">APT</text>
<path d="M1123.0,232.1 h24.7" stroke="#000000" stroke-width="3"/>
<text x="1159.9" y="239.0" font-size="23" textLength="31.8" lengthAdjust="spacingAndGlyphs">MT</text>
<text x="978.4" y="235.0" font-size="26.5" textLength="104.5" lengthAdjust="spacingAndGlyphs" fill="#ff0000">Cr-CEST</text>
<polygon points="1037.1,247.4 1058.8,284.2 1053.3,284.0 1067.8,295.2 1065.0,277.1 1062.5,282.0 1040.9,245.2" fill="#ff3300"/>
<text x="1302.6" y="33.2" font-size="39.5" font-weight="bold" stroke="#000" stroke-width="1.1">d</text>
<text x="1543.2" y="29.0" font-size="29.5" text-anchor="middle" textLength="62.5" lengthAdjust="spacingAndGlyphs">WAT</text>
<text x="1543.2" y="60.1" font-size="29.5" text-anchor="middle" textLength="163.0" lengthAdjust="spacingAndGlyphs">1.0 μ T 3.0 s</text>
<path d="M1383.7,340.5 V89.3 h7" fill="none" stroke="#000" stroke-width="1.3"/>
<path d="M1383.7,340.0 h7" stroke="#000" stroke-width="1.3"/>
<path d="M1383.7,277.3 h7" stroke="#000" stroke-width="1.3"/>
<path d="M1383.7,214.7 h7" stroke="#000" stroke-width="1.3"/>
<path d="M1383.7,152.0 h7" stroke="#000" stroke-width="1.3"/>
<text x="1372.5" y="347.2" font-size="20" text-anchor="end" textLength="12.6" lengthAdjust="spacingAndGlyphs">0</text>
<text x="1372.5" y="284.5" font-size="20" text-anchor="end" textLength="25.2" lengthAdjust="spacingAndGlyphs">20</text>
<text x="1372.5" y="221.8" font-size="20" text-anchor="end" textLength="25.2" lengthAdjust="spacingAndGlyphs">40</text>
<text x="1372.5" y="159.2" font-size="20" text-anchor="end" textLength="25.2" lengthAdjust="spacingAndGlyphs">60</text>
<text x="1372.5" y="96.5" font-size="20" text-anchor="end" textLength="25.2" lengthAdjust="spacingAndGlyphs">80</text>
<path d="M1384.7,340.0 v-6" stroke="#000" stroke-width="1.3"/>
<text x="1384.7" y="366.8" font-size="20" text-anchor="middle" textLength="25.2" lengthAdjust="spacingAndGlyphs">10</text>
<path d="M1416.1,340.0 v-6" stroke="#000" stroke-width="1.3"/>
<text x="1416.1" y="366.8" font-size="20" text-anchor="middle" textLength="12.6" lengthAdjust="spacingAndGlyphs">8</text>
<path d="M1447.5,340.0 v-6" stroke="#000" stroke-width="1.3"/>
<text x="1447.5" y="366.8" font-size="20" text-anchor="middle" textLength="12.6" lengthAdjust="spacingAndGlyphs">6</text>
<path d="M1478.9,340.0 v-6" stroke="#000" stroke-width="1.3"/>
<text x="1478.9" y="366.8" font-size="20" text-anchor="middle" textLength="12.6" lengthAdjust="spacingAndGlyphs">4</text>
<path d="M1510.3,340.0 v-6" stroke="#000" stroke-width="1.3"/>
<text x="1510.3" y="366.8" font-size="20" text-anchor="middle" textLength="12.6" lengthAdjust="spacingAndGlyphs">2</text>
<path d="M1541.7,340.0 v-6" stroke="#000" stroke-width="1.3"/>
<text x="1541.7" y="366.8" font-size="20" text-anchor="middle" textLength="12.6" lengthAdjust="spacingAndGlyphs">0</text>
<path d="M1573.1,340.0 v-6" stroke="#000" stroke-width="1.3"/>
<text x="1567.3" y="366.8" font-size="20" text-anchor="middle" textLength="24.1" lengthAdjust="spacingAndGlyphs">−2</text>
<path d="M1604.5,340.0 v-6" stroke="#000" stroke-width="1.3"/>
<text x="1598.7" y="366.8" font-size="20" text-anchor="middle" textLength="24.1" lengthAdjust="spacingAndGlyphs">−4</text>
<path d="M1635.9,340.0 v-6" stroke="#000" stroke-width="1.3"/>
<text x="1630.1" y="366.8" font-size="20" text-anchor="middle" textLength="24.1" lengthAdjust="spacingAndGlyphs">−6</text>
<path d="M1667.3,340.0 v-6" stroke="#000" stroke-width="1.3"/>
<text x="1661.5" y="366.8" font-size="20" text-anchor="middle" textLength="24.1" lengthAdjust="spacingAndGlyphs">−8</text>
<path d="M1698.7,340.0 v-6" stroke="#000" stroke-width="1.3"/>
<text x="1692.9" y="366.8" font-size="20" text-anchor="middle" textLength="36.7" lengthAdjust="spacingAndGlyphs">−10</text>
<text x="1396.5" y="404.9" font-size="28" textLength="295.0" lengthAdjust="spacingAndGlyphs">Frequency offset (ppm)</text>
<text transform="translate(1325.5,319.9) rotate(-90)" font-size="28"><tspan textLength="211" lengthAdjust="spacingAndGlyphs">100×(1-M<tspan font-size="20" dy="6">z</tspan><tspan dy="-6">/M</tspan><tspan font-size="20" dy="6">0</tspan><tspan dy="-6">), %</tspan></tspan></text>
<clipPath id="cpd"><rect x="1381.7" y="80" width="319.8" height="264.0"/></clipPath>
<g clip-path="url(#cpd)" fill="none" stroke-linejoin="round" stroke-linecap="round">
<g><use href="#st" x="1384.7" y="337.3"/><use href="#st" x="1416.1" y="335.7"/><use href="#st" x="1447.5" y="336.8"/><use href="#st" x="1451.4" y="335.0"/><use href="#st" x="1455.4" y="335.9"/><use href="#st" x="1459.3" y="335.8"/><use href="#st" x="1463.2" y="333.7"/><use href="#st" x="1467.1" y="335.1"/><use href="#st" x="1471.0" y="335.1"/><use href="#st" x="1475.0" y="334.2"/><use href="#st" x="1478.9" y="333.6"/><use href="#st" x="1482.8" y="334.1"/><use href="#st" x="1486.8" y="332.8"/><use href="#st" x="1490.7" y="334.5"/><use href="#st" x="1494.6" y="333.9"/><use href="#st" x="1498.5" y="333.7"/><use href="#st" x="1502.5" y="334.1"/><use href="#st" x="1506.4" y="333.7"/><use href="#st" x="1510.3" y="333.1"/><use href="#st" x="1514.2" y="331.1"/><use href="#st" x="1518.2" y="330.0"/><use href="#st" x="1522.1" y="328.6"/><use href="#st" x="1526.0" y="326.0"/><use href="#st" x="1529.9" y="324.2"/><use href="#st" x="1533.9" y="318.0"/><use href="#st" x="1537.8" y="312.3"/><use href="#st" x="1541.7" y="308.9"/><use href="#st" x="1545.6" y="313.5"/><use href="#st" x="1549.5" y="317.8"/><use href="#st" x="1553.5" y="324.0"/><use href="#st" x="1557.4" y="325.3"/><use href="#st" x="1561.3" y="328.8"/><use href="#st" x="1565.2" y="329.0"/><use href="#st" x="1569.2" y="326.8"/><use href="#st" x="1573.1" y="329.7"/><use href="#st" x="1577.0" y="325.3"/><use href="#st" x="1581.0" y="323.0"/><use href="#st" x="1584.9" y="321.7"/><use href="#st" x="1588.8" y="321.1"/><use href="#st" x="1592.7" y="311.9"/><use href="#st" x="1596.7" y="288.3"/><use href="#st" x="1600.6" y="322.1"/><use href="#st" x="1604.5" y="328.7"/><use href="#st" x="1608.4" y="330.6"/><use href="#st" x="1612.3" y="331.8"/><use href="#st" x="1616.3" y="331.4"/><use href="#st" x="1620.2" y="332.4"/><use href="#st" x="1624.1" y="330.9"/><use href="#st" x="1628.0" y="333.9"/><use href="#st" x="1632.0" y="333.3"/><use href="#st" x="1635.9" y="333.3"/><use href="#st" x="1667.3" y="335.4"/><use href="#st" x="1698.7" y="332.8"/></g>
<path d="M1384.7,337.5 L1446.7,336.3 L1550.3,333.5 L1588.0,332.9 L1611.6,332.8 L1635.1,333.0 L1698.7,334.6" stroke="#000" stroke-width="2.2"/>
<path d="M1384.7,339.9 L1443.6,339.7 L1476.5,339.3 L1497.0,338.6 L1504.0,338.1 L1510.3,337.3 L1515.0,336.5 L1518.9,335.4 L1522.9,333.8 L1526.0,332.0 L1528.4,330.3 L1530.7,328.0 L1538.6,318.2 L1540.1,316.9 L1541.7,316.5 L1543.3,316.9 L1544.8,318.2 L1552.7,328.0 L1555.0,330.3 L1557.4,332.0 L1560.5,333.8 L1564.5,335.4 L1568.4,336.5 L1573.1,337.3 L1579.4,338.1 L1586.4,338.6 L1606.9,339.3 L1639.8,339.7 L1698.7,339.9" stroke="#00ffff" stroke-width="2.4"/>
<path d="M1384.7,340.0 L1554.3,339.9 L1573.1,339.5 L1578.6,339.2 L1582.5,338.7 L1585.7,337.8 L1588.0,336.4 L1589.6,334.6 L1590.4,333.1 L1591.2,331.2 L1591.9,328.3 L1592.7,324.1 L1593.5,317.9 L1595.1,300.2 L1595.9,295.8 L1596.7,300.2 L1598.2,317.9 L1599.0,324.1 L1599.8,328.3 L1600.6,331.2 L1601.4,333.1 L1602.1,334.6 L1603.7,336.4 L1606.1,337.8 L1608.4,338.5 L1612.3,339.1 L1623.3,339.7 L1645.3,339.9 L1698.7,340.0" stroke="#ff0000" stroke-width="2.4"/>
<path d="M1384.7,340.0 L1493.8,340.0 L1510.3,339.7 L1529.9,340.0 L1698.7,340.0" stroke="#ff00ff" stroke-width="2.4"/>
<path d="M1384.7,340.0 L1472.6,339.9 L1480.5,339.7 L1486.8,339.1 L1493.8,339.8 L1504.8,340.0 L1698.7,340.0" stroke="#0000ff" stroke-width="2.4"/>
<path d="M1384.7,337.4 L1431.0,336.4 L1465.6,335.3 L1478.9,334.6 L1486.8,333.4 L1492.2,333.7 L1497.0,333.5 L1506.4,332.4 L1514.2,330.9 L1517.4,330.2 L1521.3,328.8 L1525.2,326.7 L1528.4,324.3 L1530.7,322.0 L1538.6,312.0 L1540.1,310.7 L1541.7,310.2 L1543.3,310.6 L1544.8,311.8 L1551.1,319.6 L1554.3,322.9 L1557.4,325.2 L1560.5,326.9 L1565.2,328.6 L1571.5,329.8 L1578.6,330.2 L1581.7,330.0 L1584.1,329.7 L1586.4,328.9 L1588.0,327.9 L1588.8,327.2 L1590.4,324.8 L1591.2,322.9 L1591.9,320.0 L1592.7,315.8 L1593.5,309.7 L1595.1,292.1 L1595.9,287.7 L1596.7,292.1 L1598.2,309.8 L1599.0,316.0 L1599.8,320.3 L1600.6,323.1 L1602.1,326.6 L1603.7,328.4 L1606.1,329.9 L1608.4,330.6 L1611.6,331.2 L1621.0,332.0 L1698.7,334.5" stroke="#00ff00" stroke-width="2.6"/>
</g>
<use href="#st" x="1572.3" y="88.3"/>
<text x="1592.1" y="95.7" font-size="23" textLength="95.5" lengthAdjust="spacingAndGlyphs">Raw data</text>
<path d="M1556.6,115.2 h24.7" stroke="#00ff00" stroke-width="3"/>
<text x="1593.5" y="122.1" font-size="23" textLength="26.5" lengthAdjust="spacingAndGlyphs">Fit</text>
<path d="M1556.6,138.6 h24.7" stroke="#00ffff" stroke-width="3"/>
<text x="1593.5" y="145.5" font-size="23" textLength="63.0" lengthAdjust="spacingAndGlyphs">Water</text>
<path d="M1556.6,162.0 h24.7" stroke="#ff0000" stroke-width="3"/>
<text x="1593.5" y="168.9" font-size="23" textLength="32.0" lengthAdjust="spacingAndGlyphs">Fat</text>
<path d="M1556.6,185.3 h24.7" stroke="#ff00ff" stroke-width="3"/>
<text x="1591.3" y="192.2" font-size="23" textLength="89.3" lengthAdjust="spacingAndGlyphs">Cr-CEST</text>
<path d="M1556.6,208.7 h24.7" stroke="#0000ff" stroke-width="3"/>
<text x="1593.5" y="215.6" font-size="23" textLength="40.3" lengthAdjust="spacingAndGlyphs">APT</text>
<path d="M1556.6,232.1 h24.7" stroke="#000000" stroke-width="3"/>
<text x="1593.5" y="239.0" font-size="23" textLength="31.8" lengthAdjust="spacingAndGlyphs">MT</text>
<text x="1419.0" y="263.8" font-size="26.5" textLength="104.5" lengthAdjust="spacingAndGlyphs" fill="#ff0000">Cr-CEST</text>
<polygon points="1477.0,276.1 1498.7,314.5 1493.2,314.1 1507.5,325.6 1505.1,307.5 1502.5,312.4 1480.8,273.9" fill="#ff3300"/>
<text x="1737.1" y="33.2" font-size="39.5" font-weight="bold" stroke="#000" stroke-width="1.1">e</text>
<text x="1974.2" y="29.0" font-size="29.5" text-anchor="middle" textLength="96.5" lengthAdjust="spacingAndGlyphs">Muscle</text>
<text x="1977.7" y="60.1" font-size="29.5" text-anchor="middle" textLength="163.0" lengthAdjust="spacingAndGlyphs">1.0 μ T 3.0 s</text>
<path d="M1818.2,340.5 V89.3 h7" fill="none" stroke="#000" stroke-width="1.3"/>
<path d="M1818.2,340.0 h7" stroke="#000" stroke-width="1.3"/>
<path d="M1818.2,277.3 h7" stroke="#000" stroke-width="1.3"/>
<path d="M1818.2,214.7 h7" stroke="#000" stroke-width="1.3"/>
<path d="M1818.2,152.0 h7" stroke="#000" stroke-width="1.3"/>
<text x="1807.0" y="347.2" font-size="20" text-anchor="end" textLength="12.6" lengthAdjust="spacingAndGlyphs">0</text>
<text x="1807.0" y="284.5" font-size="20" text-anchor="end" textLength="25.2" lengthAdjust="spacingAndGlyphs">20</text>
<text x="1807.0" y="221.8" font-size="20" text-anchor="end" textLength="25.2" lengthAdjust="spacingAndGlyphs">40</text>
<text x="1807.0" y="159.2" font-size="20" text-anchor="end" textLength="25.2" lengthAdjust="spacingAndGlyphs">60</text>
<text x="1807.0" y="96.5" font-size="20" text-anchor="end" textLength="25.2" lengthAdjust="spacingAndGlyphs">80</text>
<path d="M1819.2,340.0 v-6" stroke="#000" stroke-width="1.3"/>
<text x="1819.2" y="366.8" font-size="20" text-anchor="middle" textLength="25.2" lengthAdjust="spacingAndGlyphs">10</text>
<path d="M1850.6,340.0 v-6" stroke="#000" stroke-width="1.3"/>
<text x="1850.6" y="366.8" font-size="20" text-anchor="middle" textLength="12.6" lengthAdjust="spacingAndGlyphs">8</text>
<path d="M1882.0,340.0 v-6" stroke="#000" stroke-width="1.3"/>
<text x="1882.0" y="366.8" font-size="20" text-anchor="middle" textLength="12.6" lengthAdjust="spacingAndGlyphs">6</text>
<path d="M1913.4,340.0 v-6" stroke="#000" stroke-width="1.3"/>
<text x="1913.4" y="366.8" font-size="20" text-anchor="middle" textLength="12.6" lengthAdjust="spacingAndGlyphs">4</text>
<path d="M1944.8,340.0 v-6" stroke="#000" stroke-width="1.3"/>
<text x="1944.8" y="366.8" font-size="20" text-anchor="middle" textLength="12.6" lengthAdjust="spacingAndGlyphs">2</text>
<path d="M1976.2,340.0 v-6" stroke="#000" stroke-width="1.3"/>
<text x="1976.2" y="366.8" font-size="20" text-anchor="middle" textLength="12.6" lengthAdjust="spacingAndGlyphs">0</text>
<path d="M2007.6,340.0 v-6" stroke="#000" stroke-width="1.3"/>
<text x="2001.8" y="366.8" font-size="20" text-anchor="middle" textLength="24.1" lengthAdjust="spacingAndGlyphs">−2</text>
<path d="M2039.0,340.0 v-6" stroke="#000" stroke-width="1.3"/>
<text x="2033.2" y="366.8" font-size="20" text-anchor="middle" textLength="24.1" lengthAdjust="spacingAndGlyphs">−4</text>
<path d="M2070.4,340.0 v-6" stroke="#000" stroke-width="1.3"/>
<text x="2064.6" y="366.8" font-size="20" text-anchor="middle" textLength="24.1" lengthAdjust="spacingAndGlyphs">−6</text>
<path d="M2101.8,340.0 v-6" stroke="#000" stroke-width="1.3"/>
<text x="2096.0" y="366.8" font-size="20" text-anchor="middle" textLength="24.1" lengthAdjust="spacingAndGlyphs">−8</text>
<path d="M2133.2,340.0 v-6" stroke="#000" stroke-width="1.3"/>
<text x="2127.4" y="366.8" font-size="20" text-anchor="middle" textLength="36.7" lengthAdjust="spacingAndGlyphs">−10</text>
<text x="1831.0" y="404.9" font-size="28" textLength="295.0" lengthAdjust="spacingAndGlyphs">Frequency offset (ppm)</text>
<text transform="translate(1760.0,319.9) rotate(-90)" font-size="28"><tspan textLength="211" lengthAdjust="spacingAndGlyphs">100×(1-M<tspan font-size="20" dy="6">z</tspan><tspan dy="-6">/M</tspan><tspan font-size="20" dy="6">0</tspan><tspan dy="-6">), %</tspan></tspan></text>
<clipPath id="cpe"><rect x="1816.2" y="80" width="319.8" height="264.0"/></clipPath>
<g clip-path="url(#cpe)" fill="none" stroke-linejoin="round" stroke-linecap="round">
<g><use href="#st" x="1819.2" y="322.5"/><use href="#st" x="1850.6" y="316.7"/><use href="#st" x="1882.0" y="310.6"/><use href="#st" x="1885.9" y="308.4"/><use href="#st" x="1889.9" y="306.5"/><use href="#st" x="1893.8" y="306.0"/><use href="#st" x="1897.7" y="303.1"/><use href="#st" x="1901.6" y="305.4"/><use href="#st" x="1905.5" y="302.6"/><use href="#st" x="1909.5" y="302.3"/><use href="#st" x="1913.4" y="300.7"/><use href="#st" x="1917.3" y="297.2"/><use href="#st" x="1921.2" y="291.7"/><use href="#st" x="1925.2" y="292.7"/><use href="#st" x="1929.1" y="291.5"/><use href="#st" x="1933.0" y="286.2"/><use href="#st" x="1937.0" y="285.4"/><use href="#st" x="1940.9" y="285.6"/><use href="#st" x="1944.8" y="277.3"/><use href="#st" x="1948.7" y="276.8"/><use href="#st" x="1952.7" y="273.3"/><use href="#st" x="1956.6" y="262.6"/><use href="#st" x="1960.5" y="254.7"/><use href="#st" x="1964.4" y="240.1"/><use href="#st" x="1968.4" y="198.4"/><use href="#st" x="1972.3" y="146.7"/><use href="#st" x="1976.2" y="115.5"/><use href="#st" x="1980.1" y="149.0"/><use href="#st" x="1984.0" y="200.6"/><use href="#st" x="1988.0" y="232.7"/><use href="#st" x="1991.9" y="253.0"/><use href="#st" x="1995.8" y="262.9"/><use href="#st" x="1999.8" y="266.0"/><use href="#st" x="2003.7" y="276.0"/><use href="#st" x="2007.6" y="278.8"/><use href="#st" x="2011.5" y="279.6"/><use href="#st" x="2015.5" y="278.7"/><use href="#st" x="2019.4" y="284.5"/><use href="#st" x="2023.3" y="283.0"/><use href="#st" x="2027.2" y="289.9"/><use href="#st" x="2031.2" y="290.8"/><use href="#st" x="2035.1" y="291.3"/><use href="#st" x="2039.0" y="294.5"/><use href="#st" x="2042.9" y="295.6"/><use href="#st" x="2046.8" y="295.3"/><use href="#st" x="2050.8" y="296.3"/><use href="#st" x="2054.7" y="298.6"/><use href="#st" x="2058.6" y="300.5"/><use href="#st" x="2062.6" y="299.3"/><use href="#st" x="2066.5" y="302.0"/><use href="#st" x="2070.4" y="304.2"/><use href="#st" x="2101.8" y="310.8"/><use href="#st" x="2133.2" y="320.0"/></g>
<path d="M1819.2,323.0 L1833.3,320.9 L1847.5,318.6 L1861.6,315.9 L1874.9,313.0 L1898.5,307.1 L1940.1,295.6 L1955.8,291.9 L1963.6,290.4 L1971.5,289.3 L1979.3,288.6 L1986.4,288.3 L1995.0,288.5 L2003.7,289.2 L2012.3,290.4 L2021.7,292.2 L2037.4,296.0 L2074.3,306.3 L2092.4,310.9 L2112.8,315.5 L2133.2,319.4" stroke="#000" stroke-width="2.2"/>
<path d="M1819.2,339.6 L1858.5,339.2 L1885.9,338.7 L1905.5,337.8 L1919.7,336.6 L1925.2,335.9 L1930.7,334.8 L1935.4,333.6 L1939.3,332.2 L1942.4,330.8 L1945.6,328.9 L1948.7,326.5 L1951.1,324.1 L1953.4,321.0 L1955.0,318.4 L1957.4,313.5 L1958.9,309.3 L1960.5,304.1 L1962.1,297.7 L1964.4,284.8 L1966.8,266.5 L1968.4,250.4 L1969.9,230.7 L1973.8,175.5 L1974.6,167.6 L1975.4,162.5 L1976.2,160.7 L1977.0,162.5 L1977.8,167.6 L1978.6,175.6 L1982.5,230.7 L1984.0,250.4 L1985.6,266.5 L1988.0,284.8 L1990.3,297.7 L1991.9,304.1 L1993.5,309.3 L1995.0,313.5 L1997.4,318.4 L1999.0,321.0 L2001.3,324.1 L2003.7,326.5 L2006.8,328.9 L2010.0,330.8 L2013.1,332.2 L2017.0,333.6 L2021.7,334.8 L2027.2,335.9 L2032.7,336.6 L2046.8,337.8 L2066.5,338.7 L2093.9,339.2 L2133.2,339.6" stroke="#00ffff" stroke-width="2.4"/>
<path d="M1819.2,340.0 L2013.1,340.0 L2024.1,339.8 L2031.2,339.1 L2037.4,339.7 L2045.3,339.9 L2133.2,340.0" stroke="#ff0000" stroke-width="2.4"/>
<path d="M1819.2,340.0 L1899.3,339.9 L1924.4,339.5 L1930.7,339.0 L1935.4,338.2 L1938.5,337.0 L1943.2,334.4 L1944.8,334.0 L1946.4,334.4 L1951.9,337.4 L1955.0,338.4 L1960.5,339.2 L1968.4,339.6 L2002.9,339.9 L2133.2,340.0" stroke="#ff00ff" stroke-width="2.4"/>
<path d="M1819.2,340.0 L1893.0,340.0 L1910.3,339.7 L1914.2,339.4 L1916.5,338.8 L1918.1,338.0 L1920.5,335.7 L1921.2,335.3 L1922.0,335.7 L1924.4,338.0 L1926.7,339.1 L1929.9,339.6 L1935.4,339.8 L1964.4,340.0 L2133.2,340.0" stroke="#0000ff" stroke-width="2.4"/>
<path d="M1819.2,322.5 L1831.8,320.6 L1844.3,318.5 L1856.1,316.2 L1867.1,313.7 L1878.1,311.1 L1889.1,308.0 L1899.3,304.9 L1907.9,301.9 L1913.4,299.5 L1916.5,297.6 L1918.1,296.1 L1920.5,292.8 L1921.2,292.1 L1922.0,292.1 L1924.4,293.3 L1926.0,293.4 L1929.1,292.4 L1933.0,290.2 L1935.4,288.4 L1937.7,286.3 L1940.1,283.6 L1943.2,279.5 L1944.8,277.8 L1946.4,276.7 L1948.7,275.6 L1950.3,274.6 L1951.9,273.1 L1953.4,271.2 L1955.8,267.3 L1957.4,263.8 L1958.9,259.5 L1960.5,254.2 L1962.9,243.8 L1965.2,229.0 L1967.6,208.2 L1969.1,190.1 L1973.8,124.3 L1974.6,116.3 L1975.4,111.1 L1976.2,109.3 L1977.0,111.0 L1977.8,116.1 L1978.6,124.0 L1982.5,178.9 L1984.0,198.6 L1985.6,214.7 L1988.0,233.0 L1990.3,245.9 L1991.9,252.4 L1993.5,257.6 L1995.0,261.9 L1996.6,265.4 L1998.2,268.3 L2000.5,271.9 L2003.7,275.6 L2006.8,278.4 L2010.7,281.2 L2014.7,283.5 L2022.5,287.2 L2026.4,288.5 L2031.2,289.8 L2037.4,292.8 L2044.5,295.5 L2067.3,303.0 L2089.2,309.3 L2100.2,312.1 L2111.2,314.6 L2133.2,318.9" stroke="#00ff00" stroke-width="2.6"/>
</g>
<use href="#st" x="2051.2" y="88.3"/>
<text x="2071.0" y="95.7" font-size="23" textLength="95.5" lengthAdjust="spacingAndGlyphs">Raw data</text>
<path d="M2035.5,115.2 h24.7" stroke="#00ff00" stroke-width="3"/>
<text x="2072.4" y="122.1" font-size="23" textLength="26.5" lengthAdjust="spacingAndGlyphs">Fit</text>
<path d="M2035.5,138.6 h24.7" stroke="#00ffff" stroke-width="3"/>
<text x="2072.4" y="145.5" font-size="23" textLength="63.0" lengthAdjust="spacingAndGlyphs">Water</text>
<path d="M2035.5,162.0 h24.7" stroke="#ff0000" stroke-width="3"/>
<text x="2072.4" y="168.9" font-size="23" textLength="32.0" lengthAdjust="spacingAndGlyphs">Fat</text>
<path d="M2035.5,185.3 h24.7" stroke="#ff00ff" stroke-width="3"/>
<text x="2070.2" y="192.2" font-size="23" textLength="89.3" lengthAdjust="spacingAndGlyphs">Cr-CEST</text>
<path d="M2035.5,208.7 h24.7" stroke="#0000ff" stroke-width="3"/>
<text x="2072.4" y="215.6" font-size="23" textLength="40.3" lengthAdjust="spacingAndGlyphs">APT</text>
<path d="M2035.5,232.1 h24.7" stroke="#000000" stroke-width="3"/>
<text x="2072.4" y="239.0" font-size="23" textLength="31.8" lengthAdjust="spacingAndGlyphs">MT</text>
<text x="1851.2" y="206.5" font-size="26.5" textLength="104.5" lengthAdjust="spacingAndGlyphs" fill="#ff0000">Cr-CEST</text>
<polygon points="1908.3,218.7 1931.6,258.9 1926.1,258.6 1940.5,269.9 1937.9,251.8 1935.3,256.7 1912.1,216.5" fill="#ff3300"/>
<text x="0.5" y="483" font-size="41" font-weight="bold" stroke="#000" stroke-width="1.3">f</text>
<text x="0.3" y="855.8" font-size="38.5" font-weight="bold" stroke="#000" stroke-width="1.2">g</text>
<text transform="translate(23.0,673.2) rotate(-90)" font-size="28.5" textLength="60.5" lengthAdjust="spacingAndGlyphs">Axial</text>
<text transform="translate(23.0,1092.8) rotate(-90)" font-size="28" textLength="96" lengthAdjust="spacingAndGlyphs">Sagittal</text>
<text x="673.5" y="496.2" font-size="30" text-anchor="middle" textLength="287.0" lengthAdjust="spacingAndGlyphs">T2-weighted imaging</text>
<text x="1076.6" y="496.2" font-size="30" text-anchor="middle" textLength="106.0" lengthAdjust="spacingAndGlyphs">FWF (%)</text>
<text x="1504.2" y="496.2" font-size="30" text-anchor="middle" textLength="162.3" lengthAdjust="spacingAndGlyphs">Cr-CEST (%)</text>
<text x="1931.6" y="496.2" font-size="30" text-anchor="middle" textLength="100.2" lengthAdjust="spacingAndGlyphs">APT (%)</text>
<defs>
<filter id="b1" color-interpolation-filters="sRGB" x="-10%" y="-10%" width="120%" height="120%"><feGaussianBlur stdDeviation="1"/></filter>
<filter id="b2" color-interpolation-filters="sRGB" x="-10%" y="-10%" width="120%" height="120%"><feGaussianBlur stdDeviation="2"/></filter>
<filter id="b4" color-interpolation-filters="sRGB" x="-20%" y="-20%" width="140%" height="140%"><feGaussianBlur stdDeviation="4"/></filter>
<filter id="b8" color-interpolation-filters="sRGB" x="-30%" y="-30%" width="160%" height="160%"><feGaussianBlur stdDeviation="8"/></filter>
<filter id="nzw" x="0" y="0" width="100%" height="100%" color-interpolation-filters="sRGB"><feTurbulence type="fractalNoise" baseFrequency="0.5" numOctaves="2" seed="4"/><feColorMatrix type="matrix" values="0 0 0 0 1 0 0 0 0 1 0 0 0 0 1 1.6 0 0 0 -0.8"/></filter>
<filter id="nzk" x="0" y="0" width="100%" height="100%" color-interpolation-filters="sRGB"><feTurbulence type="fractalNoise" baseFrequency="0.12" numOctaves="3" seed="9"/><feColorMatrix type="matrix" values="0 0 0 0 0 0 0 0 0 0 0 0 0 0 0 1.8 0 0 0 -0.85"/></filter>
<filter id="nzl" x="0" y="0" width="100%" height="100%" color-interpolation-filters="sRGB"><feTurbulence type="fractalNoise" baseFrequency="0.05" numOctaves="3" seed="2"/><feColorMatrix type="matrix" values="0 0 0 0 1 0 0 0 0 1 0 0 0 0 1 2.2 0 0 0 -1.0"/></filter>
<clipPath id="cbox"><rect width="328" height="328"/></clipPath>
<clipPath id="cboxs"><rect width="328.5" height="330"/></clipPath>
<g id="axA">
 <rect width="328" height="328" fill="#060606"/>
 <g clip-path="url(#cbox)">
 <path d="M9,120 C5,170 9,215 23,252 C35,283 55,309 77,332" stroke="#222" stroke-width="2.2" fill="none" filter="url(#b1)"/>
 <path d="M14,118 C10,165 14,210 27,247" stroke="#161616" stroke-width="1.6" fill="none" filter="url(#b1)"/>
 <path d="M329,150 C328,205 318,245 303,276 C294,294 285,306 274,318" stroke="#222" stroke-width="2.2" fill="none" filter="url(#b1)"/>
 <g filter="url(#b2)">
  <path d="M86,96 C80,88 66,83 48,85 C32,89 24,110 22,145 C20,180 27,212 44,240 C57,262 70,280 88,296 Z" fill="#2a2a2a"/>
  <path d="M250,100 C256,92 272,88 290,89 C305,95 314,118 317,155 C320,192 312,222 294,248 C280,268 266,284 250,298 Z" fill="#2a2a2a"/>
  <path d="M40,90 C55,84 72,86 84,94 L84,125 C70,116 50,113 32,118 Z" fill="#363636"/>
  <path d="M296,92 C282,86 266,86 254,94 L254,128 C268,118 288,116 306,122 Z" fill="#363636"/>
  <ellipse cx="54" cy="165" rx="15" ry="34" fill="#1e1e1e"/>
  <ellipse cx="284" cy="172" rx="15" ry="34" fill="#1e1e1e"/>
  <ellipse cx="60" cy="225" rx="10" ry="14" fill="#242424"/>
  <ellipse cx="278" cy="232" rx="10" ry="14" fill="#242424"/>
  <path d="M169,26 C135,26 108,40 96,62 C86,82 82,105 81,135 L81,272 C81,292 93,303 118,305 L220,305 C244,303 255,292 255,272 L255,135 C254,105 250,82 240,62 C228,40 203,26 169,26 Z" fill="#171717"/>
  <path d="M84,205 C110,200 140,212 166,212 C196,212 225,200 252,205 L252,292 L84,292 Z" fill="#212121"/>
 </g>
 <g filter="url(#b2)">
  <path d="M168,78 C142,78 124,96 119,126 C114,160 116,192 126,210 C138,224 156,220 165,208 C176,220 196,224 208,210 C219,192 222,160 218,126 C213,96 194,78 168,78 Z" fill="#0b0b0b"/>
  <path d="M79,100 L90,104 L90,285 L81,285 Z" fill="#262626"/>
  <path d="M257,104 L246,108 L246,285 L255,285 Z" fill="#262626"/>
 </g>
 <g filter="url(#b4)">
  <ellipse cx="167" cy="178" rx="13" ry="32" fill="#151515"/>
 </g>
 <g fill="none" filter="url(#b1)">
  <path d="M169,26 C135,26 108,40 96,62 C86,82 82,105 81,135" stroke="#2c2c2c" stroke-width="1.8"/>
  <path d="M169,26 C203,26 228,40 240,62 C250,82 254,105 255,135" stroke="#2c2c2c" stroke-width="1.8"/>
  <path d="M122,92 C136,78 200,78 214,92" stroke="#222" stroke-width="1.5"/>
  <path d="M150,160 C156,175 162,185 166,200 M186,160 C180,175 172,185 168,200" stroke="#1a1a1a" stroke-width="1.5"/>
  <path d="M46,88 C32,92 24,114 22,149 C20,184 27,214 43,240" stroke="#5a5a5a" stroke-width="4.5"/>
  <path d="M292,91 C306,97 314,121 317,158 C320,195 312,224 296,248" stroke="#5a5a5a" stroke-width="4.5"/>
  <path d="M40,89 C55,81 72,83 84,92" stroke="#4a4a4a" stroke-width="3"/>
  <path d="M296,91 C282,83 266,85 254,95" stroke="#4a4a4a" stroke-width="3"/>
  <path d="M81,135 L81,270 M255,135 L255,270" stroke="#2e2e2e" stroke-width="2"/>
 </g>
 <g filter="url(#b2)">
  <path d="M77,93 C83,96 88,100 90,108 L89,132 C86,124 82,116 78,110 Z" fill="#8a8a8a"/>
  <path d="M249,103 C254,106 258,110 260,118 L259,150 C255,140 251,128 248,118 Z" fill="#8a8a8a"/>
  <circle cx="164" cy="225" r="9" fill="#343434"/>
  <path d="M98,262 C112,264 128,272 146,284 C128,290 108,290 94,286 C96,278 98,270 98,262 Z" fill="#6e6e6e"/>
  <path d="M238,262 C226,264 208,272 188,284 C206,291 226,291 240,287 C238,279 238,270 238,262 Z" fill="#6e6e6e"/>
  <path d="M148,299 L162,270 L176,299 Z" fill="#d4d4d4"/>
 </g>
 <g fill="none" filter="url(#b1)">
  <path d="M104,272 C116,276 128,280 140,283 M104,280 C116,283 126,285 134,286" stroke="#aaa" stroke-width="1.6"/>
  <path d="M232,272 C220,276 208,280 196,283 M232,280 C220,283 210,285 202,286" stroke="#aaa" stroke-width="1.6"/>
  <path d="M96,289 C115,292 140,292 156,288 M240,289 C221,292 196,292 172,288" stroke="#111" stroke-width="2"/>
 </g>
 <path d="M163,238 L163,272" stroke="#0a0a0a" stroke-width="2.5" filter="url(#b1)"/>
 <g fill="none" filter="url(#b1)">
  <path d="M50,248 C60,264 72,280 86,291" stroke="#d8d8d8" stroke-width="3.5"/>
  <path d="M284,256 C272,272 260,286 250,293" stroke="#d0d0d0" stroke-width="3.5"/>
  <path d="M84,288 C88,296 94,299 110,301 L150,301 C156,300 160,298.5 163,297 C166,299 172,301.5 186,302 L232,301 C240,300 245,296 250,290" stroke="#ebebeb" stroke-width="6.5"/>
  <path d="M88,307 C100,310 130,311 163,310 C200,311 230,310 248,305" stroke="#4a4a4a" stroke-width="2"/>
 </g>
 <rect width="328" height="328" filter="url(#nzw)" opacity="0.08"/>
 <rect width="328" height="328" filter="url(#nzk)" opacity="0.3"/>
 </g>
</g>
<g id="sgA">
 <rect width="328.5" height="330" fill="#0c0c0c"/>
 <g clip-path="url(#cboxs)">
 <g filter="url(#b8)">
  <path d="M18,0 L248,0 L268,330 L18,330 Z" fill="#151515"/>
  <ellipse cx="112" cy="122" rx="42" ry="26" fill="#0a0a0a"/>
  <ellipse cx="60" cy="240" rx="30" ry="60" fill="#0e0e0e"/>
  <ellipse cx="200" cy="235" rx="32" ry="55" fill="#1b1b1b"/>
  <ellipse cx="150" cy="55" rx="45" ry="40" fill="#181818"/>
  <ellipse cx="75" cy="140" rx="25" ry="12" fill="#1c1c1c"/>
 </g>
 <rect x="15" y="0" width="235" height="330" filter="url(#nzl)" opacity="0.06"/>
 <g fill="none" filter="url(#b1)">
  <path d="M36,0 C26,30 14,70 4,110" stroke="#2c2c2c" stroke-width="2"/>
  <path d="M50,0 C38,40 26,80 16,120" stroke="#1e1e1e" stroke-width="1.6"/>
  <path d="M0,70 C10,50 22,25 34,0" stroke="#1e1e1e" stroke-width="3"/>
  <path d="M60,0 C52,25 46,50 42,80" stroke="#1c1c1c" stroke-width="1.5"/>
  <path d="M180,150 C190,170 205,190 220,200" stroke="#1e1e1e" stroke-width="3"/>
  <path d="M60,125 C70,130 85,135 100,136" stroke="#2a2a2a" stroke-width="2"/>
 </g>
 <g filter="url(#b2)">
  <path d="M246,0 L306,0 L300,100 L250,108 Z" fill="#242424"/>
  <path d="M279,0 L298,0 L297,100 L279,100 Z" fill="#383838"/>
  <path d="M283,0 L288,0 L288,100 L283,100 Z" fill="#4a4a4a"/>
  <path d="M288,95 L297,95 L297,330 L288,330 Z" fill="#6a6a6a"/>
  <path d="M297,95 L302,95 L302,330 L297,330 Z" fill="#2a2a2a"/>
  <path d="M302,0 L311,0 L311,330 L302,330 Z" fill="#0e0e0e"/>
  <path d="M311,0 L322,0 L322,330 L311,330 Z" fill="#252525"/>
  <path d="M322,0 L330,0 L330,330 L322,330 Z" fill="#090909"/>
  <path d="M241,140 L249,164 C256,180 262,190 265,199 C269,215 272,230 273,239 C275,260 276,280 277,292 L278,330 L290,330 L290,140 Z" fill="#565656"/>
  <path d="M238,114 C240,106 250,101 265,100 L285,98 L284,175 C270,178 252,168 241,148 C239,135 238,124 238,114 Z" fill="#6c6c6c"/>
 </g>
 <g filter="url(#b4)">
  <path d="M278,100 L292,97 L291,200 L288,330 L277,330 C276,300 274,270 272,240 C270,215 270,200 272,180 C275,160 276,130 278,100 Z" fill="url(#gbat)"/>
 </g>
 <g filter="url(#b2)">
  <path d="M283,112 L289,106 L288,330 L282.5,330 Z" fill="#fafafa"/>
 </g>
 <g filter="url(#b1)">
  <circle cx="251.5" cy="128" r="2.5" fill="#303030"/><circle cx="249.5" cy="146" r="3.2" fill="#1c1c1c"/>
 </g>
 <rect width="328.5" height="330" filter="url(#nzw)" opacity="0.07"/>
 <rect width="328.5" height="330" filter="url(#nzk)" opacity="0.3"/>
 </g>
</g>
<linearGradient id="gbat" x1="268" y1="0" x2="291" y2="0" gradientUnits="userSpaceOnUse"><stop offset="0" stop-color="#505050"/><stop offset="0.4" stop-color="#a0a0a0"/><stop offset="0.78" stop-color="#e4e4e4"/><stop offset="1" stop-color="#b8b8b8"/></linearGradient>
<linearGradient id="gfwf" x1="0" y1="94" x2="0" y2="281" gradientUnits="userSpaceOnUse">
<stop offset="0" stop-color="#10c8ff"/><stop offset="0.22" stop-color="#40f0c8"/><stop offset="0.42" stop-color="#e0f030"/>
<stop offset="0.55" stop-color="#ff9000"/><stop offset="0.68" stop-color="#f00000"/><stop offset="1" stop-color="#a00000"/></linearGradient>
<linearGradient id="gcr" x1="0" y1="94" x2="0" y2="281" gradientUnits="userSpaceOnUse">
<stop offset="0" stop-color="#40d8f0"/><stop offset="0.35" stop-color="#40b0ff"/><stop offset="0.6" stop-color="#1050ff"/><stop offset="1" stop-color="#0010d0"/></linearGradient>
<linearGradient id="gapt" x1="0" y1="94" x2="0" y2="281" gradientUnits="userSpaceOnUse">
<stop offset="0" stop-color="#30b0ff"/><stop offset="0.4" stop-color="#2080ff"/><stop offset="0.65" stop-color="#1040ff"/><stop offset="1" stop-color="#0018e0"/></linearGradient><linearGradient id="gcrb" x1="0" y1="94" x2="0" y2="281" gradientUnits="userSpaceOnUse">
<stop offset="0" stop-color="#1040ff" stop-opacity="0"/><stop offset="0.4" stop-color="#1050ff" stop-opacity="0.25"/><stop offset="0.62" stop-color="#1040ff" stop-opacity="0.85"/><stop offset="1" stop-color="#0010d0" stop-opacity="1"/></linearGradient>
<linearGradient id="gaptb" x1="0" y1="94" x2="0" y2="281" gradientUnits="userSpaceOnUse">
<stop offset="0" stop-color="#1040ff" stop-opacity="0"/><stop offset="0.45" stop-color="#1040ff" stop-opacity="0.45"/><stop offset="0.7" stop-color="#0828e0" stop-opacity="0.85"/><stop offset="1" stop-color="#0010c0" stop-opacity="1"/></linearGradient><filter id="mcr" x="0" y="0" width="100%" height="100%" color-interpolation-filters="sRGB"><feTurbulence type="fractalNoise" baseFrequency="0.085" numOctaves="2" seed="7"/><feColorMatrix type="matrix" values="1 0 0 0 0 1 0 0 0 0 1 0 0 0 0 0 0 0 0 1"/><feComponentTransfer><feFuncR type="table" tableValues="0.00 0.00 0.00 0.00 0.00 0.00 0.00 0.05 0.17 0.29 0.40 0.52 0.64 0.75 0.87 0.99 1.00 1.00 1.00 1.00 1.00"/><feFuncG type="table" tableValues="0.00 0.10 0.24 0.39 0.53 0.68 0.82 0.97 1.00 1.00 1.00 1.00 1.00 1.00 1.00 0.94 0.81 0.67 0.54 0.40 0.27"/><feFuncB type="table" tableValues="1.00 1.00 1.00 1.00 1.00 1.00 1.00 0.92 0.80 0.68 0.56 0.45 0.33 0.21 0.10 0.00 0.00 0.00 0.00 0.00 0.00"/></feComponentTransfer></filter><filter id="mapt" x="0" y="0" width="100%" height="100%" color-interpolation-filters="sRGB"><feTurbulence type="fractalNoise" baseFrequency="0.085" numOctaves="2" seed="11"/><feColorMatrix type="matrix" values="1 0 0 0 0 1 0 0 0 0 1 0 0 0 0 0 0 0 0 1"/><feComponentTransfer><feFuncR type="table" tableValues="0.00 0.00 0.00 0.00 0.00 0.00 0.00 0.00 0.00 0.00 0.00 0.08 0.19 0.29 0.39 0.49 0.59 0.69 0.79 0.89 0.99"/><feFuncG type="table" tableValues="0.00 0.00 0.00 0.01 0.13 0.26 0.38 0.50 0.63 0.76 0.88 1.00 1.00 1.00 1.00 1.00 1.00 1.00 1.00 1.00 0.94"/><feFuncB type="table" tableValues="0.65 0.79 0.93 1.00 1.00 1.00 1.00 1.00 1.00 1.00 0.98 0.88 0.78 0.68 0.58 0.48 0.38 0.28 0.18 0.08 0.00"/></feComponentTransfer></filter></defs>
<g transform="translate(508.9,516.1) scale(1.0037,1.0012)"><use href="#axA"/></g>
<g transform="translate(914.1,516.8) scale(0.9970,0.9985)"><use href="#axA"/><rect width="328" height="328" fill="#000" opacity="0.12"/><g filter="url(#b1)">
 <path d="M84.6,284.4 C88,292 92,297 100,298.5 L158,298.8 C160,298 162,297.5 164,297.8 L232,298.5 C238,297.5 242,295 245.7,290.7" stroke="#30d0f0" stroke-width="11" fill="none" stroke-linecap="round"/>
 <path d="M84.6,284.4 C88,292 92,297 100,298.5 L158,298.8 C160,298 162,297.5 164,297.8 L232,298.5 C238,297.5 242,295 245.7,290.7" stroke="#ffe000" stroke-width="7.5" fill="none" stroke-linecap="round"/>
 <path d="M97,298.3 L158,298.8 C162,297.5 166,297.5 185,298.3" stroke="#e80000" stroke-width="4.5" fill="none"/>
 <path d="M185,298.3 L228,298.3" stroke="#ff8c00" stroke-width="4.5" fill="none"/>
 <path d="M214,298.3 L224,298.3" stroke="#ff2000" stroke-width="3.5" fill="none"/>
 <path d="M108,298.7 L150,298.7" stroke="#a00000" stroke-width="2.8" fill="none"/>
 <path d="M84.6,284.4 C86,288 88,291 91,294" stroke="#1040ff" stroke-width="5" fill="none" stroke-linecap="round"/>
 <path d="M242,291.5 C243.5,289.5 245,288 246,287" stroke="#1060ff" stroke-width="5" fill="none" stroke-linecap="round"/>
 <path d="M116,296 C135,290 152,276 163,266 C174,276 191,290 210,296 Z" fill="#40e0d0"/>
 <path d="M128,297 C142,291 155,280 163,271 C171,280 184,291 198,297 Z" fill="#ffe000"/>
 <path d="M140,298 C149,293 157,285 163,277 C169,285 177,293 186,298 Z" fill="#ee1000"/>
 <path d="M149,299 C154,295 159,289 163,284 C167,289 172,295 177,299 Z" fill="#9a0000"/>
 <path d="M157,268 L169,268 L166,275 L160,275 Z" fill="#1060ff"/>
 <path d="M107.9,261.1 C116,268 128,274 141.9,280.2 L129.5,283.5 L111.2,287.7 L101.2,274.4 L107,271.9 Z" fill="#20e8e8" stroke="#0030ff" stroke-width="1.6"/>
 <path d="M222.5,261.1 C214,268 200,274 186,279.4 L199.2,283.5 L217.5,290.2 L225,279.4 L220,273.6 Z" fill="#20e8e8" stroke="#0030ff" stroke-width="1.6"/>
 <path d="M110,276 L132,280 L115,284 Z" fill="#80ffa0"/>
 <path d="M216,277 L194,280 L211,285 Z" fill="#80ffa0"/>
</g></g>
<g transform="translate(1341.1,516.8) scale(0.9939,0.9985)"><use href="#axA"/><rect width="328" height="328" fill="#000" opacity="0.12"/><g filter="url(#b1)">
 <path d="M84.6,284.4 C88,292 92,297 100,298.5 L158,298.8 C160,298 162,297.5 164,297.8 L232,298.5 C238,297.5 242,295 245.7,290.7" stroke="#30c0ff" stroke-width="11" fill="none" stroke-linecap="round"/>
 <path d="M116,296 C135,290 152,276 163,266 C174,276 191,290 210,296 Z" fill="#40d8e8"/>
 <path d="M122,294 C130,291 136,289 142,288 L138,294 Z" fill="#c8f040"/>
 <path d="M204,294 C196,291 190,289 184,288 L188,294 Z" fill="#a0f060"/>
 <path d="M128,297 C142,291 155,280 163,271 C171,280 184,291 198,297 Z" fill="#1060ff"/>
 <path d="M140,298 C149,293 157,285 163,277 C169,285 177,293 186,298 Z" fill="#0010e0"/>
 <path d="M112,299 L160,299.5 L236,299" stroke="#0000d8" stroke-width="6" fill="none"/>
 <path d="M84.6,284.4 C88,292 92,297 108,299" stroke="#40a8ff" stroke-width="8" fill="none" stroke-linecap="round"/>
 <path d="M156,268 L162,268 L162,276 L156,276 Z M164,268 L170,268 L170,276 L164,276 Z" fill="#0008c0"/>
 <path d="M107.9,261.1 C116,268 128,274 141.9,280.2 L129.5,283.5 L111.2,287.7 L101.2,274.4 L107,271.9 Z" fill="#30e0f0" stroke="#f0f020" stroke-width="1.8"/>
 <path d="M222.5,261.1 C214,268 200,274 186,279.4 L199.2,283.5 L217.5,290.2 L225,279.4 L220,273.6 Z" fill="#50f0c8" stroke="#60e8e0" stroke-width="1.2"/>
 <ellipse cx="117" cy="272" rx="5" ry="2.5" fill="#2060ff"/>
 <ellipse cx="116" cy="284" rx="5" ry="2" fill="#2060ff"/>
 <path d="M108,278 L132,279 L112,283 Z" fill="#e0f030"/>
 <path d="M194,280 L214,281 L206,285 Z" fill="#d0f040"/>
</g></g>
<g transform="translate(1768.0,516.8) scale(0.9970,0.9985)"><use href="#axA"/><rect width="328" height="328" fill="#000" opacity="0.12"/><g filter="url(#b1)">
 <path d="M84.6,284.4 C88,292 92,297 100,298.5 L158,298.8 C160,298 162,297.5 164,297.8 L232,298.5 C238,297.5 242,295 245.7,290.7" stroke="#2090ff" stroke-width="11" fill="none" stroke-linecap="round"/>
 <path d="M116,296 C135,290 152,276 163,266 C174,276 191,290 210,296 Z" fill="#30b0ff"/>
 <path d="M128,297 C142,291 155,280 163,271 C171,280 184,291 198,297 Z" fill="#1030f0"/>
 <path d="M140,298 C149,293 157,285 163,277 C169,285 177,293 186,298 Z" fill="#0010d0"/>
 <path d="M90,297 L150,299.5" stroke="#0010e0" stroke-width="6" fill="none"/>
 <path d="M176,296 C195,295 220,295 240,292" stroke="#50e8e0" stroke-width="6" fill="none"/>
 <path d="M178,302 L236,301.5" stroke="#0020e0" stroke-width="3" fill="none"/>
 <ellipse cx="182" cy="294" rx="6" ry="3" fill="#d0f040"/>
 <ellipse cx="131" cy="292" rx="5" ry="2.5" fill="#c0f050"/>
 <path d="M155,272 L163,272 L163,279 L155,279 Z" fill="#f0d000"/>
 <path d="M163,272 L171,272 L171,279 L163,279 Z" fill="#ff1000"/>
 <path d="M107.9,261.1 C116,268 128,274 141.9,280.2 L129.5,283.5 L111.2,287.7 L101.2,274.4 L107,271.9 Z" fill="#30a8ff" stroke="#30e0f0" stroke-width="1.2"/>
 <path d="M222.5,261.1 C214,268 200,274 186,279.4 L199.2,283.5 L217.5,290.2 L225,279.4 L220,273.6 Z" fill="#30b0ff" stroke="#40e8f0" stroke-width="1.2"/>
 <path d="M222.5,261.1 L218,272 L214,270 Z" fill="#f0f000" stroke="#f0f000" stroke-width="2"/>
 <path d="M186,279.4 L196,277 L193,282 Z" fill="#f0e000"/>
</g></g>
<g transform="translate(509.0,910.4) scale(1.0024,0.9973)"><use href="#sgA"/></g>
<g transform="translate(913.2,910.4) scale(0.9979,0.9973)"><use href="#sgA"/><g clip-path="url(#cboxs)"><g filter="url(#b2)"><path d="M262,95 L296,95 L296,330 L268,330 Z" fill="#000" opacity="0.62"/><path d="M280.5,200 L284,200 L283,330 L279.5,330 Z" fill="#fff" opacity="0.8"/></g></g><clipPath id="sgc1"><path d="M261,94.4 L291.5,94.4 L290.5,175 L286.5,219 L283,263 L280,281 L277,248 L268,204 L253.6,166 L244.8,151.6 L239.5,128 L241.9,110.5 Z"/></clipPath>
<g clip-path="url(#sgc1)"><path d="M261,94.4 L291.5,94.4 L290.5,175 L286.5,219 L283,263 L280,281 L277,248 L268,204 L253.6,166 L244.8,151.6 L239.5,128 L241.9,110.5 Z" fill="url(#gfwf)"/><g filter="url(#b4)">
 <ellipse cx="248" cy="130" rx="12" ry="30" fill="#20d0ff"/>
 <ellipse cx="262" cy="110" rx="14" ry="14" fill="#30d8f8"/>
 <path d="M286,90 L296,90 L296,190 L288,190 Z" fill="#1050ff"/>
 <path d="M268,88 L296,88 L296,100 L272,100 Z" fill="#0030ff"/>
 <path d="M252,165 L262,165 L276,250 L268,250 Z" fill="#40e8d0"/>
 <path d="M266,190 L273,190 L279,265 L274,265 Z" fill="#f0e020"/>
 <path d="M277,200 L283,200 L282,281 L279,281 Z" fill="#900000"/>
</g><rect x="230" y="90" width="70" height="200" filter="url(#nzk)" opacity="0.25"/></g></g>
<g transform="translate(1340.3,910.4) scale(0.9942,0.9973)"><use href="#sgA"/><g clip-path="url(#cboxs)"><g filter="url(#b2)"><path d="M262,95 L296,95 L296,330 L268,330 Z" fill="#000" opacity="0.62"/><path d="M280.5,200 L284,200 L283,330 L279.5,330 Z" fill="#fff" opacity="0.8"/></g></g><clipPath id="sgc2"><path d="M261,94.4 L291.5,94.4 L290.5,175 L286.5,219 L283,263 L280,281 L277,248 L268,204 L253.6,166 L244.8,151.6 L239.5,128 L241.9,110.5 Z"/></clipPath>
<g clip-path="url(#sgc2)"><rect x="230" y="90" width="70" height="200" filter="url(#mcr)"/>
<path d="M261,94.4 L291.5,94.4 L290.5,175 L286.5,219 L283,263 L280,281 L277,248 L268,204 L253.6,166 L244.8,151.6 L239.5,128 L241.9,110.5 Z" fill="url(#gcrb)"/><g filter="url(#b2)">
 <path d="M240,98 L292,94 L292,99 L244,104 Z" fill="#ffe800"/>
 <path d="M237,110 L244,108 L250,165 L243,160 Z" fill="#f0e020"/>
 <path d="M286,120 L293,120 L293,230 L287,230 Z" fill="#1850ff" opacity="0.7"/>
</g></g></g>
<g transform="translate(1767.0,910.4) scale(0.9970,0.9973)"><use href="#sgA"/><g clip-path="url(#cboxs)"><g filter="url(#b2)"><path d="M262,95 L296,95 L296,330 L268,330 Z" fill="#000" opacity="0.62"/><path d="M280.5,200 L284,200 L283,330 L279.5,330 Z" fill="#fff" opacity="0.8"/></g></g><clipPath id="sgc3"><path d="M261,94.4 L291.5,94.4 L290.5,175 L286.5,219 L283,263 L280,281 L277,248 L268,204 L253.6,166 L244.8,151.6 L239.5,128 L241.9,110.5 Z"/></clipPath>
<g clip-path="url(#sgc3)"><rect x="230" y="90" width="70" height="200" filter="url(#mapt)"/>
<path d="M261,94.4 L291.5,94.4 L290.5,175 L286.5,219 L283,263 L280,281 L277,248 L268,204 L253.6,166 L244.8,151.6 L239.5,128 L241.9,110.5 Z" fill="url(#gaptb)"/><g filter="url(#b2)">
 <path d="M285,100 L293,96 L293,200 L286,200 Z" fill="#0828e0" opacity="0.8"/>
</g></g></g>
<text x="567.5" y="721.8" font-size="27.5" fill="#fff" textLength="88.5" lengthAdjust="spacingAndGlyphs">Muscle</text>
<text x="701.5" y="760.5" font-size="27.5" fill="#fff" textLength="47.5" lengthAdjust="spacingAndGlyphs">BAT</text>
<text x="698.5" y="842.8" font-size="27.5" fill="#fff" textLength="55.5" lengthAdjust="spacingAndGlyphs">WAT</text>
<path d="M599.1,737 L605.8,730.1 L617.7,746.3 Z" fill="#fff"/>
<path d="M709.1,768.1 L719.1,771.5 L709.1,787.4 Z" fill="#fff"/>
<path d="M675.3,821.2 L692.6,831.1 L685.9,838.4 Z" fill="#fff"/>
<text x="645.5" y="969.2" font-size="27.5" fill="#fff" textLength="89" lengthAdjust="spacingAndGlyphs">Muscle</text>
<text x="661.5" y="1048.5" font-size="27.5" fill="#fff" textLength="47.5" lengthAdjust="spacingAndGlyphs">BAT</text>
<text x="694.5" y="1143.2" font-size="27.5" fill="#fff" textLength="56.5" lengthAdjust="spacingAndGlyphs">WAT</text>
<path d="M697.6,982.6 L706.4,976.2 L715.7,992.9 Z" fill="#fff"/>
<path d="M721.1,1037.3 L722.4,1045.7 L742.3,1046.5 Z" fill="#fff"/>
<path d="M775.8,1120.4 L757.5,1129.5 L764.5,1137.5 Z" fill="#fff"/>
<path d="M151.6,666.8 L151.7,666.2 L151.9,665.6 L152.1,664.8 L152.4,664.2 L152.6,663.9 L152.8,663.7 L153.2,663.6 L153.9,663.5 L154.7,663.4 L155.7,663.4 L156.8,663.4 L158.0,663.4 L159.2,663.4 L160.4,663.5 L161.7,663.6 L163.0,663.7 L164.3,663.9 L165.6,664.2 L167.0,664.5 L168.5,665.0 L170.0,665.5 L171.5,666.1 L173.0,666.6 L174.5,667.1 L175.9,667.6 L177.3,668.3 L178.8,668.9 L180.3,669.4 L181.8,669.8 L183.3,669.8 L184.7,669.1 L185.5,667.9 L185.9,666.8 L186.1,665.8 L186.3,664.7 L186.6,663.5 L187.1,661.9 L187.7,660.0 L188.2,658.0 L188.8,655.9 L189.5,654.0 L190.2,652.2 L190.9,650.5 L191.7,648.9 L192.5,647.3 L193.4,645.8 L194.4,644.4 L195.4,643.2 L196.4,642.0 L197.6,640.9 L198.8,639.9 L200.1,638.9 L201.4,638.0 L202.9,637.0 L204.5,636.1 L206.2,635.2 L207.9,634.4 L209.7,633.6 L211.5,632.9 L213.4,632.4 L215.4,632.0 L217.5,631.8 L219.8,631.7 L222.2,631.6 L224.5,631.4 L226.8,631.1 L228.8,630.7 L230.7,630.4 L232.7,629.9 L234.6,629.3 L236.5,628.5 L238.5,627.4 L240.3,625.9 L241.9,624.2 L243.5,622.3 L245.0,620.4 L246.6,618.5 L248.2,616.7 L250.0,614.8 L251.9,612.9 L253.8,611.0 L255.8,609.2 L257.9,607.5 L260.2,606.0 L262.8,604.6 L265.7,603.2 L268.8,602.0 L272.0,600.8 L275.0,599.7 L277.8,598.7 L280.4,597.8 L282.7,597.1 L285.0,596.4 L287.3,595.7 L289.4,595.0 L291.6,594.2 L293.6,593.3 L295.5,592.3 L297.4,591.4 L299.1,590.4 L300.8,589.4 L302.5,588.4 L304.1,587.5 L305.6,586.5 L307.1,585.6 L308.5,584.7 L310.1,583.7 L311.8,582.8 L313.8,581.8 L316.0,580.9 L318.4,579.9 L320.8,578.9 L323.1,578.0 L325.4,577.1 L327.6,576.2 L329.8,575.3 L332.0,574.4 L334.1,573.6 L336.0,572.9 L337.6,572.3 L338.8,571.8 L339.8,571.5 L340.6,571.3 L341.2,571.1 L341.7,571.0 L342.1,570.9 L341.9,570.3 L341.5,570.4 L341.0,570.4 L340.4,570.5 L339.6,570.7 L338.5,570.9 L337.2,571.3 L335.6,571.9 L333.7,572.5 L331.6,573.3 L329.4,574.1 L327.1,574.9 L324.8,575.7 L322.6,576.6 L320.2,577.4 L317.8,578.3 L315.4,579.2 L313.1,580.1 L311.0,581.0 L309.1,581.9 L307.4,582.7 L305.9,583.6 L304.4,584.5 L302.9,585.3 L301.3,586.2 L299.6,587.0 L297.8,588.0 L296.1,588.9 L294.3,589.7 L292.4,590.6 L290.4,591.4 L288.4,592.1 L286.3,592.8 L284.2,593.4 L281.8,594.1 L279.4,594.8 L276.8,595.7 L273.9,596.7 L270.9,597.7 L267.6,598.9 L264.4,600.1 L261.3,601.5 L258.4,603.0 L255.9,604.8 L253.6,606.6 L251.4,608.6 L249.5,610.5 L247.6,612.5 L245.8,614.3 L244.0,616.2 L242.4,618.2 L240.8,620.2 L239.4,621.9 L238.0,623.4 L236.5,624.6 L235.0,625.5 L233.5,626.1 L231.8,626.6 L230.1,627.0 L228.2,627.4 L226.2,627.7 L224.2,628.0 L222.0,628.2 L219.7,628.3 L217.3,628.4 L214.9,628.6 L212.6,629.0 L210.5,629.6 L208.4,630.4 L206.4,631.2 L204.6,632.1 L202.8,633.0 L201.1,634.0 L199.5,634.9 L198.0,636.0 L196.5,637.0 L195.2,638.2 L193.9,639.5 L192.6,640.8 L191.5,642.3 L190.4,643.9 L189.4,645.5 L188.5,647.3 L187.6,649.0 L186.8,650.8 L186.1,652.8 L185.4,654.9 L184.8,657.0 L184.3,659.1 L183.8,661.0 L183.4,662.5 L183.0,664.0 L182.8,665.2 L182.7,666.1 L182.6,666.6 L182.6,666.6 L182.7,666.6 L182.2,666.6 L181.3,666.4 L180.0,665.9 L178.6,665.3 L177.1,664.7 L175.5,664.1 L174.1,663.6 L172.6,663.0 L171.0,662.5 L169.5,661.9 L167.9,661.4 L166.4,661.0 L164.9,660.7 L163.4,660.5 L162.0,660.4 L160.6,660.3 L159.3,660.2 L158.0,660.2 L156.8,660.2 L155.6,660.2 L154.5,660.3 L153.3,660.4 L152.2,660.7 L151.2,661.3 L150.3,662.2 L149.8,663.2 L149.6,664.2 L149.5,665.1 L149.5,665.8 L149.4,666.2 Z" fill="#1a1a1a"/>
<path d="M151.0,661.8 L150.7,662.3 L150.2,662.9 L149.6,663.7 L149.0,664.6 L148.6,665.6 L148.3,666.7 L148.4,667.7 L148.6,668.6 L149.0,669.5 L149.5,670.2 L150.2,670.9 L150.9,671.5 L151.7,671.9 L152.6,672.2 L153.5,672.3 L154.4,672.3 L155.3,672.3 L156.0,672.3 L156.8,672.2 L157.4,672.0 L158.0,671.7 L158.6,671.4 L158.9,671.2 L159.2,671.1 L158.8,669.9 L158.4,670.1 L158.0,670.2 L157.5,670.4 L157.0,670.6 L156.5,670.7 L156.0,670.7 L155.3,670.6 L154.6,670.6 L153.8,670.4 L153.1,670.2 L152.5,670.0 L152.1,669.7 L151.8,669.4 L151.5,668.9 L151.2,668.4 L151.0,667.8 L150.9,667.3 L150.9,666.9 L151.0,666.5 L151.3,665.9 L151.7,665.1 L152.2,664.3 L152.7,663.7 L153.0,663.2 Z" fill="#1a1a1a"/>
<path d="M100.7,681.5 L100.9,682.8 L101.2,684.5 L101.6,686.6 L102.0,688.8 L102.5,691.0 L103.1,693.1 L103.7,695.1 L104.4,697.1 L105.2,699.2 L106.0,701.2 L106.9,703.3 L107.9,705.3 L109.0,707.4 L110.2,709.5 L111.5,711.6 L112.8,713.7 L114.2,715.7 L115.6,717.7 L117.1,719.5 L118.6,721.3 L120.1,723.1 L121.7,724.8 L123.4,726.4 L125.2,728.0 L127.0,729.5 L128.9,731.0 L130.9,732.4 L132.9,733.8 L135.0,735.0 L137.2,736.0 L139.5,736.8 L141.8,737.5 L144.2,738.0 L146.6,738.3 L149.0,738.5 L151.4,738.6 L153.7,738.6 L156.1,738.4 L158.5,738.1 L160.9,737.6 L163.2,737.0 L165.6,736.2 L168.0,735.2 L170.3,734.0 L172.6,732.6 L174.9,731.2 L177.2,729.6 L179.4,728.1 L181.7,726.4 L184.1,724.6 L186.4,722.7 L188.7,720.8 L191.0,718.9 L193.1,717.1 L195.2,715.3 L197.3,713.5 L199.4,711.6 L201.3,709.9 L203.0,708.4 L204.5,707.1 L205.6,706.3 L206.5,705.6 L207.2,705.2 L207.8,704.9 L208.3,704.7 L208.7,704.5 L208.3,703.5 L207.9,703.7 L207.4,703.8 L206.7,704.1 L205.9,704.4 L204.8,705.0 L203.5,705.9 L202.0,707.0 L200.1,708.5 L198.1,710.2 L196.0,711.9 L193.9,713.7 L191.7,715.5 L189.5,717.2 L187.2,719.0 L184.9,720.8 L182.6,722.6 L180.3,724.4 L178.0,725.9 L175.7,727.4 L173.4,728.9 L171.2,730.2 L169.0,731.5 L166.8,732.5 L164.6,733.4 L162.4,734.1 L160.2,734.6 L158.0,735.0 L155.8,735.2 L153.6,735.4 L151.4,735.4 L149.2,735.3 L147.0,735.2 L144.7,734.9 L142.5,734.4 L140.4,733.9 L138.4,733.2 L136.4,732.3 L134.4,731.3 L132.4,730.1 L130.5,728.8 L128.6,727.4 L126.8,726.0 L125.1,724.6 L123.5,723.0 L121.9,721.4 L120.4,719.8 L118.9,718.1 L117.4,716.3 L115.9,714.5 L114.4,712.6 L113.0,710.6 L111.6,708.6 L110.3,706.6 L109.1,704.7 L108.0,702.7 L107.1,700.7 L106.2,698.8 L105.3,696.8 L104.6,694.8 L103.9,692.9 L103.2,690.8 L102.6,688.6 L102.1,686.4 L101.6,684.4 L101.2,682.7 L100.9,681.5 Z" fill="#1a1a1a"/>
<path d="M196.7,701.2 L196.1,701.8 L195.4,702.6 L194.5,703.5 L193.5,704.5 L192.5,705.5 L191.5,706.5 L190.5,707.5 L189.7,708.4 L188.7,709.3 L187.7,710.3 L186.5,711.4 L185.0,712.6 L183.1,714.0 L181.0,715.6 L178.6,717.3 L176.1,719.0 L173.7,720.5 L171.3,721.9 L169.1,723.1 L166.9,724.1 L164.7,725.0 L162.4,725.9 L160.2,726.6 L158.0,727.1 L155.8,727.6 L153.6,727.9 L151.4,728.1 L149.1,728.2 L146.9,728.1 L144.7,728.0 L142.5,727.8 L140.3,727.4 L138.1,726.9 L135.9,726.4 L133.7,725.6 L131.4,724.8 L129.1,723.8 L126.8,722.7 L124.4,721.4 L122.1,720.1 L119.9,718.6 L117.9,716.9 L116.1,715.1 L114.3,713.1 L112.6,710.8 L111.1,708.5 L109.6,706.2 L108.2,703.9 L107.0,701.6 L105.8,699.1 L104.8,696.7 L103.8,694.2 L103.0,692.0 L102.3,689.9 L101.8,688.0 L101.4,686.2 L101.2,684.6 L101.0,683.1 L100.9,681.9 L100.7,681.0 L100.5,681.0 L100.5,681.9 L100.6,683.2 L100.7,684.6 L100.9,686.3 L101.2,688.2 L101.7,690.1 L102.3,692.2 L103.0,694.5 L103.9,697.0 L104.9,699.5 L106.0,702.1 L107.2,704.5 L108.5,706.9 L109.9,709.3 L111.4,711.7 L113.0,714.0 L114.8,716.2 L116.7,718.3 L118.8,720.1 L121.0,721.7 L123.4,723.2 L125.8,724.5 L128.2,725.7 L130.6,726.8 L132.9,727.8 L135.2,728.5 L137.5,729.2 L139.8,729.7 L142.2,730.1 L144.5,730.4 L146.8,730.6 L149.2,730.6 L151.5,730.5 L153.9,730.3 L156.2,729.9 L158.6,729.5 L160.9,728.9 L163.2,728.1 L165.5,727.2 L167.8,726.3 L170.2,725.1 L172.5,723.9 L174.9,722.5 L177.3,720.8 L179.8,719.0 L182.2,717.2 L184.3,715.5 L186.2,714.0 L187.7,712.7 L188.9,711.6 L189.9,710.5 L190.8,709.4 L191.6,708.5 L192.5,707.5 L193.4,706.4 L194.4,705.3 L195.3,704.2 L196.1,703.2 L196.8,702.4 L197.3,701.8 Z" fill="#1a1a1a"/>
<path d="M197.6,751.0 L197.1,751.4 L196.4,751.8 L195.6,752.4 L194.7,753.0 L193.8,753.7 L193.2,754.4 L192.7,755.1 L192.3,755.8 L192.0,756.6 L191.8,757.5 L191.8,758.4 L192.2,759.2 L192.8,760.0 L193.6,760.5 L194.5,760.9 L195.5,761.3 L196.5,761.5 L197.5,761.6 L198.6,761.5 L199.8,761.2 L200.9,760.8 L202.0,760.5 L202.9,760.1 L203.4,759.9 L202.6,757.5 L201.9,757.7 L201.1,758.1 L200.1,758.5 L199.1,758.9 L198.2,759.1 L197.5,759.2 L196.8,759.1 L196.1,759.0 L195.4,758.7 L194.8,758.4 L194.4,758.1 L194.2,758.0 L194.2,757.9 L194.1,757.6 L194.2,757.2 L194.3,756.7 L194.5,756.1 L194.8,755.6 L195.2,755.0 L195.8,754.3 L196.5,753.6 L197.3,753.0 L197.9,752.4 L198.4,752.0 Z" fill="#1a1a1a"/>
<path d="M203.9,759.8 L204.4,759.4 L205.2,758.8 L206.1,758.1 L207.1,757.4 L208.2,756.5 L209.1,755.6 L210.0,754.8 L210.8,754.0 L211.6,753.1 L212.5,752.0 L213.4,750.8 L214.4,749.4 L215.5,747.7 L216.7,745.7 L217.9,743.5 L219.1,741.4 L220.2,739.3 L221.3,737.4 L222.3,735.6 L223.2,733.8 L224.0,732.2 L224.9,730.7 L225.7,729.5 L226.5,728.4 L227.4,727.5 L228.2,726.9 L228.9,726.4 L229.7,726.0 L230.8,725.7 L232.3,725.4 L234.2,725.2 L236.5,725.1 L239.1,725.2 L241.9,725.3 L244.6,725.3 L247.1,725.2 L249.4,725.0 L251.6,724.9 L253.8,724.7 L255.9,724.4 L258.0,723.9 L260.0,723.2 L261.9,722.2 L263.6,721.1 L265.2,719.9 L266.7,718.4 L268.1,716.8 L269.5,715.0 L270.8,713.0 L271.9,710.8 L272.9,708.5 L273.9,706.0 L275.0,703.5 L276.2,700.7 L277.6,697.7 L279.1,694.3 L280.7,690.7 L282.3,687.2 L284.0,684.0 L285.6,681.1 L287.3,678.7 L288.9,676.5 L290.5,674.5 L292.2,672.7 L294.1,670.9 L296.1,669.3 L298.4,667.7 L300.8,666.2 L303.4,664.8 L306.1,663.5 L309.0,662.3 L311.9,661.2 L315.0,660.2 L318.3,659.2 L321.7,658.4 L325.2,657.6 L328.7,657.0 L332.1,656.4 L335.6,655.9 L339.2,655.6 L342.8,655.3 L346.3,655.1 L349.6,655.0 L352.4,654.9 L354.8,654.8 L357.0,654.8 L358.8,654.9 L360.5,654.9 L361.9,655.0 L363.2,655.1 L364.3,655.2 L365.1,655.3 L365.7,655.4 L366.1,655.5 L366.5,655.6 L366.9,655.7 L367.1,654.9 L366.8,654.8 L366.5,654.6 L366.0,654.4 L365.3,654.1 L364.5,653.9 L363.4,653.7 L362.1,653.5 L360.6,653.3 L359.0,653.1 L357.1,652.9 L354.9,652.8 L352.4,652.7 L349.5,652.7 L346.2,652.7 L342.7,652.8 L339.0,653.0 L335.3,653.2 L331.7,653.6 L328.2,654.1 L324.6,654.7 L321.1,655.4 L317.5,656.2 L314.1,657.2 L310.9,658.2 L307.8,659.3 L304.8,660.5 L301.9,661.8 L299.2,663.3 L296.5,664.8 L294.1,666.5 L291.8,668.3 L289.8,670.2 L287.9,672.2 L286.1,674.3 L284.3,676.6 L282.6,679.3 L280.8,682.3 L279.1,685.7 L277.4,689.2 L275.8,692.8 L274.4,696.2 L273.0,699.3 L271.7,702.0 L270.6,704.6 L269.6,707.1 L268.6,709.3 L267.6,711.2 L266.5,713.0 L265.3,714.6 L264.1,715.9 L262.8,717.1 L261.5,718.2 L260.1,719.1 L258.6,719.8 L257.0,720.4 L255.2,720.8 L253.3,721.1 L251.3,721.3 L249.1,721.5 L246.9,721.6 L244.5,721.7 L241.9,721.7 L239.2,721.6 L236.5,721.5 L234.0,721.6 L231.7,721.8 L229.9,722.2 L228.4,722.7 L227.1,723.3 L226.0,724.0 L224.9,724.9 L223.9,726.0 L222.8,727.3 L221.8,728.8 L220.9,730.5 L220.0,732.2 L219.1,733.9 L218.1,735.6 L217.1,737.6 L215.9,739.7 L214.8,741.9 L213.6,744.0 L212.6,745.9 L211.6,747.6 L210.7,748.9 L209.9,750.0 L209.1,750.9 L208.4,751.7 L207.7,752.5 L206.9,753.4 L206.1,754.2 L205.2,755.0 L204.3,755.8 L203.4,756.5 L202.7,757.1 L202.1,757.6 Z" fill="#1a1a1a"/>
<path d="M337.6,570.6 L337.0,570.0 L336.2,569.1 L335.3,568.2 L334.3,567.1 L333.3,565.9 L332.5,564.7 L331.7,563.3 L330.9,561.9 L330.1,560.4 L329.4,558.8 L328.8,557.2 L328.4,555.8 L328.1,554.3 L327.9,552.7 L327.8,551.2 L327.9,549.7 L328.1,548.4 L328.4,547.3 L328.8,546.5 L329.3,545.7 L329.9,545.0 L330.7,544.4 L331.4,543.9 L332.2,543.5 L332.9,543.2 L333.7,543.0 L334.5,542.9 L335.4,542.9 L336.2,543.0 L337.1,543.2 L338.1,543.4 L339.1,543.9 L340.1,544.4 L341.2,545.0 L342.1,545.7 L343.0,546.4 L343.9,547.3 L344.7,548.4 L345.5,549.6 L346.3,550.8 L347.0,552.1 L347.7,553.4 L348.2,554.6 L348.7,555.9 L349.2,557.3 L349.7,558.8 L350.3,560.2 L351.1,561.5 L351.8,562.5 L352.6,563.4 L353.4,564.2 L354.5,564.9 L355.8,565.6 L357.4,566.2 L359.5,566.8 L361.9,567.4 L364.6,568.0 L367.4,568.5 L370.0,569.1 L372.5,569.7 L374.9,570.3 L377.3,570.8 L379.6,571.4 L381.8,572.0 L383.8,572.8 L385.8,573.6 L387.7,574.7 L389.6,576.0 L391.4,577.4 L393.2,578.8 L394.9,580.2 L396.6,581.6 L398.2,582.8 L399.7,584.0 L401.2,585.2 L402.5,586.3 L403.7,587.4 L404.9,588.4 L405.9,589.3 L406.9,590.2 L407.7,591.0 L408.4,591.7 L409.0,592.4 L409.3,593.1 L409.6,593.8 L409.7,594.6 L409.6,595.4 L409.5,596.2 L409.2,597.0 L408.8,597.9 L408.2,598.8 L407.4,599.8 L406.4,600.8 L405.4,601.8 L404.5,602.6 L404.0,603.1 L404.6,603.9 L405.2,603.3 L406.1,602.5 L407.1,601.6 L408.2,600.5 L409.1,599.5 L409.8,598.5 L410.3,597.6 L410.8,596.6 L411.1,595.6 L411.2,594.6 L411.2,593.6 L411.1,592.5 L410.6,591.5 L410.0,590.5 L409.3,589.5 L408.5,588.6 L407.5,587.6 L406.5,586.6 L405.4,585.5 L404.2,584.4 L402.9,583.2 L401.4,581.9 L399.9,580.7 L398.4,579.4 L396.8,578.1 L395.1,576.6 L393.2,575.1 L391.3,573.6 L389.3,572.2 L387.2,571.0 L385.0,570.0 L382.7,569.2 L380.3,568.5 L378.0,567.9 L375.6,567.3 L373.3,566.7 L370.7,566.1 L367.9,565.6 L365.2,565.0 L362.6,564.5 L360.3,564.0 L358.4,563.4 L357.0,562.8 L356.1,562.3 L355.4,561.8 L354.9,561.3 L354.3,560.6 L353.7,559.7 L353.2,558.8 L352.8,557.6 L352.3,556.3 L351.9,554.8 L351.4,553.3 L350.7,551.8 L350.0,550.5 L349.2,549.1 L348.4,547.7 L347.4,546.4 L346.4,545.1 L345.4,544.0 L344.2,543.0 L343.0,542.1 L341.7,541.4 L340.4,540.8 L339.1,540.4 L337.9,540.0 L336.6,539.8 L335.4,539.8 L334.2,539.8 L333.0,540.0 L331.9,540.4 L330.8,540.9 L329.8,541.5 L328.9,542.2 L328.0,543.1 L327.2,544.2 L326.5,545.3 L326.0,546.7 L325.8,548.1 L325.7,549.6 L325.8,551.3 L325.9,553.0 L326.2,554.6 L326.6,556.2 L327.2,557.8 L327.9,559.4 L328.8,561.0 L329.7,562.6 L330.6,564.0 L331.5,565.3 L332.5,566.6 L333.6,567.7 L334.7,568.8 L335.7,569.7 L336.6,570.4 L337.2,571.0 Z" fill="#1a1a1a"/>
<path d="M404.1,603.0 L403.1,603.4 L401.6,603.9 L400.0,604.6 L398.1,605.2 L396.2,605.8 L394.5,606.3 L392.8,606.7 L391.0,607.0 L389.1,607.3 L387.3,607.6 L385.4,607.9 L383.5,608.2 L381.7,608.6 L379.9,608.9 L378.1,609.2 L376.2,609.6 L374.2,610.1 L372.3,610.8 L370.3,611.7 L368.4,612.8 L366.4,613.9 L364.5,615.1 L362.7,616.4 L361.0,617.5 L359.4,618.6 L357.9,619.8 L356.4,620.9 L354.9,622.1 L353.6,623.3 L352.4,624.7 L351.4,626.1 L350.5,627.5 L349.7,629.0 L349.1,630.5 L348.5,631.9 L348.1,633.2 L347.7,634.6 L347.3,636.0 L347.0,637.5 L346.8,638.9 L346.8,640.3 L347.2,641.7 L347.9,642.8 L348.8,643.7 L349.9,644.4 L351.1,644.9 L352.3,645.3 L353.5,645.7 L354.9,645.9 L356.4,645.9 L358.0,645.9 L359.5,645.8 L360.8,645.7 L362.0,645.6 L363.0,645.5 L364.0,645.4 L364.8,645.3 L365.5,645.2 L366.1,645.2 L366.5,645.1 L366.5,644.1 L366.0,644.1 L365.4,644.1 L364.7,644.1 L363.9,644.1 L363.0,644.0 L362.0,644.0 L360.8,644.0 L359.4,644.0 L357.9,644.0 L356.5,643.9 L355.2,643.8 L354.1,643.5 L353.0,643.2 L352.0,642.8 L351.1,642.3 L350.4,641.8 L349.9,641.3 L349.6,640.7 L349.6,640.1 L349.7,639.2 L349.9,638.1 L350.3,636.9 L350.8,635.6 L351.3,634.4 L351.8,633.1 L352.3,631.8 L352.9,630.5 L353.6,629.3 L354.3,628.1 L355.2,626.9 L356.2,625.8 L357.3,624.7 L358.6,623.6 L360.0,622.5 L361.4,621.4 L363.0,620.3 L364.6,619.1 L366.4,617.9 L368.1,616.7 L370.0,615.5 L371.8,614.5 L373.5,613.6 L375.2,612.9 L376.9,612.3 L378.6,611.9 L380.4,611.4 L382.2,611.0 L384.1,610.6 L385.9,610.1 L387.7,609.7 L389.5,609.3 L391.4,608.9 L393.2,608.4 L394.9,607.9 L396.7,607.2 L398.6,606.5 L400.4,605.7 L402.1,605.0 L403.5,604.4 L404.5,604.0 Z" fill="#1a1a1a"/>
<path d="M349.1,594.6 L349.3,594.0 L349.5,593.1 L349.8,592.1 L350.2,591.1 L350.5,590.2 L350.9,589.6 L351.2,589.0 L351.6,588.5 L352.1,588.0 L352.5,587.6 L352.9,587.2 L353.3,587.0 L353.8,586.7 L354.3,586.5 L354.8,586.4 L355.3,586.3 L355.7,586.2 L356.1,586.3 L356.6,586.4 L357.2,586.6 L357.8,586.9 L358.4,587.3 L359.0,587.7 L359.5,588.1 L359.9,588.6 L360.4,589.2 L360.8,589.9 L361.1,590.6 L361.4,591.2 L361.6,591.6 L362.4,591.4 L362.3,590.9 L362.2,590.2 L362.0,589.4 L361.8,588.6 L361.5,587.7 L361.1,586.9 L360.6,586.2 L360.0,585.5 L359.3,584.8 L358.6,584.2 L357.7,583.7 L356.9,583.3 L355.9,583.2 L355.0,583.1 L354.1,583.3 L353.2,583.5 L352.4,583.8 L351.7,584.2 L351.0,584.7 L350.3,585.3 L349.7,586.0 L349.2,586.7 L348.7,587.5 L348.3,588.4 L348.0,589.5 L347.9,590.6 L347.8,591.8 L347.8,592.9 L347.7,593.7 L347.7,594.4 Z" fill="#1a1a1a"/>
<path d="M159.0,670.5 L159.3,670.5 L159.7,670.5 L160.1,670.5 L160.7,670.5 L161.3,670.6 L162.0,670.8 L162.8,671.1 L163.7,671.5 L164.8,671.9 L165.8,672.4 L166.9,672.9 L168.0,673.4 L169.1,673.9 L170.2,674.4 L171.4,674.9 L172.6,675.4 L173.8,675.9 L175.0,676.3 L176.3,676.7 L177.6,677.2 L179.0,677.6 L180.3,677.9 L181.6,678.2 L182.8,678.4 L183.9,678.5 L184.9,678.5 L185.8,678.4 L186.7,678.3 L187.5,678.1 L188.3,677.8 L189.0,677.4 L189.7,676.7 L190.3,676.1 L190.9,675.4 L191.4,674.8 L191.7,674.4" fill="none" stroke="#1a1a1a" stroke-width="1.0" stroke-linecap="round"/>
<path d="M191.7,674.4 L192.2,674.8 L193.0,675.3 L193.8,675.9 L194.8,676.7 L195.7,677.5 L196.5,678.5 L197.3,679.6 L198.1,680.8 L199.0,682.2 L199.7,683.6 L200.3,685.1 L200.8,686.5 L201.1,688.0 L201.2,689.6 L201.2,691.2 L201.1,692.8 L200.9,694.3 L200.6,695.6 L200.2,696.8 L199.5,698.0 L198.8,699.1 L198.1,700.1 L197.4,700.9 L197.0,701.5" fill="none" stroke="#1a1a1a" stroke-width="1.0" stroke-linecap="round"/>
<path d="M208.5,704.0 L209.1,704.0 L209.9,703.9 L210.9,703.8 L211.9,703.8 L213.0,703.7 L214.0,703.8 L215.0,703.9 L215.9,704.1 L216.9,704.2 L217.9,704.5 L218.9,704.8 L220.0,705.2 L221.2,705.7 L222.6,706.2 L224.0,706.9 L225.4,707.5 L226.6,708.3 L227.5,709.0 L228.2,709.8 L228.7,710.7 L229.1,711.7 L229.3,712.6 L229.4,713.5 L229.3,714.2 L229.0,714.8 L228.4,715.3 L227.6,715.7 L226.8,716.1 L225.9,716.4 L225.2,716.8 L224.6,717.1 L223.9,717.3 L223.3,717.6 L222.7,717.9 L222.0,718.3 L221.3,719.0 L220.5,720.0 L219.7,721.2 L218.8,722.6 L217.9,724.1 L216.9,725.6 L216.0,727.0 L215.0,728.4 L214.0,729.8 L213.0,731.2 L212.0,732.7 L211.1,734.1 L210.2,735.5 L209.4,736.9 L208.7,738.3 L208.1,739.7 L207.4,741.1 L206.7,742.3 L206.0,743.5 L205.2,744.5 L204.2,745.4 L203.3,746.2 L202.4,747.0 L201.5,747.8 L200.8,748.5 L200.3,749.2 L199.9,750.0 L199.6,750.7 L199.3,751.3 L199.0,751.9 L198.5,752.5 L197.8,753.0 L197.0,753.5 L196.1,754.0 L195.2,754.4 L194.5,754.7 L194.0,755.0" fill="none" stroke="#1a1a1a" stroke-width="1.0" stroke-linecap="round"/>
<path d="M366.5,644.6 L366.9,644.4 L367.4,644.2 L368.0,643.9 L368.7,643.6 L369.3,643.3 L370.0,643.0 L370.7,642.7 L371.4,642.4 L372.1,642.2 L372.8,641.9 L373.4,641.7 L374.0,641.6 L374.6,641.6 L375.1,641.6 L375.7,641.7 L376.1,641.9 L376.4,642.1 L376.5,642.3 L376.2,642.6 L375.5,643.0 L374.7,643.4 L373.9,643.8 L373.4,644.1 L373.5,644.4 L374.3,644.6 L375.7,644.6 L377.5,644.7 L379.2,644.7 L380.6,644.8 L381.5,645.0 L381.6,645.3 L381.2,645.7 L380.5,646.1 L379.7,646.6 L379.2,647.1 L379.0,647.5 L379.4,647.9 L380.2,648.4 L381.2,648.8 L382.2,649.3 L382.8,649.7 L383.0,650.0 L382.5,650.2 L381.4,650.4 L380.0,650.5 L378.7,650.7 L377.6,650.9 L377.0,651.2 L377.1,651.7 L377.8,652.4 L378.8,653.2 L379.7,653.9 L380.4,654.6 L380.5,655.0 L380.0,655.1 L379.2,655.1 L378.1,654.9 L376.8,654.7 L375.6,654.6 L374.5,654.6 L373.5,654.8 L372.6,655.2 L371.7,655.7 L370.8,656.1 L369.9,656.4 L369.0,656.6 L368.1,656.6 L367.1,656.4 L366.2,656.1 L365.3,655.8 L364.5,655.5 L364.0,655.3" fill="none" stroke="#222" stroke-width="0.7" stroke-linecap="round"/>
<path d="M398.8,584.6 L396.1,561.4" stroke="#444" stroke-width="0.5"/>
<path d="M401.5,584.0 L399.8,559.5" stroke="#444" stroke-width="0.5"/>
<path d="M404.3,583.3 L405.7,560.0" stroke="#444" stroke-width="0.5"/>
<path d="M407.0,581.9 L411.1,562.8" stroke="#444" stroke-width="0.5"/>
<path d="M394.7,577.8 L389.3,568.2" stroke="#444" stroke-width="0.5"/>
<path d="M394.7,603.7 L378.3,628.3" stroke="#444" stroke-width="0.5"/>
<path d="M393.5,604.5 L382.4,631.0" stroke="#444" stroke-width="0.5"/>
<path d="M394.8,605.0 L386.5,631.7" stroke="#444" stroke-width="0.5"/>
<path d="M395.5,605.0 L394.7,628.3" stroke="#444" stroke-width="0.5"/>
<path d="M392.5,603.5 L372.9,622.8" stroke="#444" stroke-width="0.5"/>
<ellipse cx="384.5" cy="592.8" rx="3.2" ry="2" fill="#111" transform="rotate(-15 384.5 592.8)"/>
<path d="M302.6,604.5 L314.5,601.8 L316.9,604.5 L308,613.5 L304.8,612.0Z" fill="#7b4b2e"/>
<path d="M310.5,614.5 L319.2,607.8 L321,611.0 L315,623.5 L311.5,621.5Z" fill="#7b4b2e"/>
<path d="M295.9,525 L372.1,635.5 L336.4,705.5 L259.8,595 Z" fill="none" stroke="#e8141c" stroke-width="1.3"/>
<path d="M277.6,559.6 L351.9,666.7" stroke="#e8141c" stroke-width="1.8" stroke-dasharray="6.5,4"/>
<text x="173.8" y="549.7" font-size="27.5" fill="#9a6532" textLength="49" lengthAdjust="spacingAndGlyphs">BAT</text>
<polygon points="228.1,546.9 289.8,599.2 282.6,600.8 299.2,604.4 292.9,588.6 292.5,596.0 230.9,543.7" fill="#9a6532"/>
<path d="M151.6,1060.1 L151.7,1059.5 L151.9,1058.9 L152.1,1058.1 L152.4,1057.5 L152.6,1057.2 L152.8,1057.0 L153.2,1056.9 L153.9,1056.8 L154.7,1056.7 L155.7,1056.7 L156.8,1056.7 L158.0,1056.7 L159.2,1056.7 L160.4,1056.8 L161.7,1056.9 L163.0,1057.0 L164.3,1057.2 L165.6,1057.5 L167.0,1057.8 L168.5,1058.3 L170.0,1058.8 L171.5,1059.4 L173.0,1059.9 L174.5,1060.4 L175.9,1060.9 L177.3,1061.6 L178.8,1062.2 L180.3,1062.7 L181.8,1063.1 L183.3,1063.1 L184.7,1062.4 L185.5,1061.2 L185.9,1060.1 L186.1,1059.1 L186.3,1058.0 L186.6,1056.8 L187.1,1055.2 L187.7,1053.3 L188.2,1051.3 L188.8,1049.2 L189.5,1047.3 L190.2,1045.5 L190.9,1043.8 L191.7,1042.2 L192.5,1040.6 L193.4,1039.1 L194.4,1037.7 L195.4,1036.5 L196.4,1035.3 L197.6,1034.2 L198.8,1033.2 L200.1,1032.2 L201.4,1031.3 L202.9,1030.3 L204.5,1029.4 L206.2,1028.5 L207.9,1027.7 L209.7,1026.9 L211.5,1026.2 L213.4,1025.7 L215.4,1025.3 L217.5,1025.1 L219.8,1025.0 L222.2,1024.9 L224.5,1024.7 L226.8,1024.4 L228.8,1024.0 L230.7,1023.7 L232.7,1023.2 L234.6,1022.6 L236.5,1021.8 L238.5,1020.7 L240.3,1019.2 L241.9,1017.5 L243.5,1015.6 L245.0,1013.7 L246.6,1011.8 L248.2,1010.0 L250.0,1008.1 L251.9,1006.2 L253.8,1004.3 L255.8,1002.5 L257.9,1000.8 L260.2,999.3 L262.8,997.9 L265.7,996.5 L268.8,995.3 L272.0,994.1 L275.0,993.0 L277.8,992.0 L280.4,991.1 L282.7,990.4 L285.0,989.7 L287.3,989.0 L289.4,988.3 L291.6,987.5 L293.6,986.6 L295.5,985.6 L297.4,984.7 L299.1,983.7 L300.8,982.7 L302.5,981.7 L304.1,980.8 L305.6,979.8 L307.1,978.9 L308.5,978.0 L310.1,977.0 L311.8,976.1 L313.8,975.1 L316.0,974.2 L318.4,973.2 L320.8,972.2 L323.1,971.3 L325.4,970.4 L327.6,969.5 L329.8,968.6 L332.0,967.7 L334.1,966.9 L336.0,966.2 L337.6,965.6 L338.8,965.1 L339.8,964.8 L340.6,964.6 L341.2,964.4 L341.7,964.3 L342.1,964.2 L341.9,963.6 L341.5,963.7 L341.0,963.7 L340.4,963.8 L339.6,964.0 L338.5,964.2 L337.2,964.6 L335.6,965.2 L333.7,965.8 L331.6,966.6 L329.4,967.4 L327.1,968.2 L324.8,969.0 L322.6,969.9 L320.2,970.7 L317.8,971.6 L315.4,972.5 L313.1,973.4 L311.0,974.3 L309.1,975.2 L307.4,976.0 L305.9,976.9 L304.4,977.8 L302.9,978.6 L301.3,979.5 L299.6,980.3 L297.8,981.3 L296.1,982.2 L294.3,983.0 L292.4,983.9 L290.4,984.7 L288.4,985.4 L286.3,986.1 L284.2,986.7 L281.8,987.4 L279.4,988.1 L276.8,989.0 L273.9,990.0 L270.9,991.0 L267.6,992.2 L264.4,993.4 L261.3,994.8 L258.4,996.3 L255.9,998.1 L253.6,999.9 L251.4,1001.9 L249.5,1003.8 L247.6,1005.8 L245.8,1007.6 L244.0,1009.5 L242.4,1011.5 L240.8,1013.5 L239.4,1015.2 L238.0,1016.7 L236.5,1017.9 L235.0,1018.8 L233.5,1019.4 L231.8,1019.9 L230.1,1020.3 L228.2,1020.7 L226.2,1021.0 L224.2,1021.3 L222.0,1021.5 L219.7,1021.6 L217.3,1021.7 L214.9,1021.9 L212.6,1022.3 L210.5,1022.9 L208.4,1023.7 L206.4,1024.5 L204.6,1025.4 L202.8,1026.3 L201.1,1027.3 L199.5,1028.2 L198.0,1029.3 L196.5,1030.3 L195.2,1031.5 L193.9,1032.8 L192.6,1034.1 L191.5,1035.6 L190.4,1037.2 L189.4,1038.8 L188.5,1040.6 L187.6,1042.3 L186.8,1044.1 L186.1,1046.1 L185.4,1048.2 L184.8,1050.3 L184.3,1052.4 L183.8,1054.3 L183.4,1055.8 L183.0,1057.3 L182.8,1058.5 L182.7,1059.4 L182.6,1059.9 L182.6,1059.9 L182.7,1059.9 L182.2,1059.9 L181.3,1059.7 L180.0,1059.2 L178.6,1058.6 L177.1,1058.0 L175.5,1057.4 L174.1,1056.9 L172.6,1056.3 L171.0,1055.8 L169.5,1055.2 L167.9,1054.7 L166.4,1054.3 L164.9,1054.0 L163.4,1053.8 L162.0,1053.7 L160.6,1053.6 L159.3,1053.5 L158.0,1053.5 L156.8,1053.5 L155.6,1053.5 L154.5,1053.6 L153.3,1053.7 L152.2,1054.0 L151.2,1054.6 L150.3,1055.5 L149.8,1056.5 L149.6,1057.5 L149.5,1058.4 L149.5,1059.1 L149.4,1059.5 Z" fill="#1a1a1a"/>
<path d="M151.0,1055.1 L150.7,1055.6 L150.2,1056.2 L149.6,1057.0 L149.0,1057.9 L148.6,1058.9 L148.3,1060.0 L148.4,1061.0 L148.6,1061.9 L149.0,1062.8 L149.5,1063.5 L150.2,1064.2 L150.9,1064.8 L151.7,1065.2 L152.6,1065.5 L153.5,1065.6 L154.4,1065.6 L155.3,1065.6 L156.0,1065.6 L156.8,1065.5 L157.4,1065.3 L158.0,1065.0 L158.6,1064.7 L158.9,1064.5 L159.2,1064.4 L158.8,1063.2 L158.4,1063.4 L158.0,1063.5 L157.5,1063.7 L157.0,1063.9 L156.5,1064.0 L156.0,1064.0 L155.3,1063.9 L154.6,1063.9 L153.8,1063.7 L153.1,1063.5 L152.5,1063.3 L152.1,1063.0 L151.8,1062.7 L151.5,1062.2 L151.2,1061.7 L151.0,1061.1 L150.9,1060.6 L150.9,1060.2 L151.0,1059.8 L151.3,1059.2 L151.7,1058.4 L152.2,1057.6 L152.7,1057.0 L153.0,1056.5 Z" fill="#1a1a1a"/>
<path d="M100.7,1074.8 L100.9,1076.1 L101.2,1077.8 L101.6,1079.9 L102.0,1082.1 L102.5,1084.3 L103.1,1086.4 L103.7,1088.4 L104.4,1090.4 L105.2,1092.5 L106.0,1094.5 L106.9,1096.6 L107.9,1098.6 L109.0,1100.7 L110.2,1102.8 L111.5,1104.9 L112.8,1107.0 L114.2,1109.0 L115.6,1111.0 L117.1,1112.8 L118.6,1114.6 L120.1,1116.4 L121.7,1118.1 L123.4,1119.7 L125.2,1121.3 L127.0,1122.8 L128.9,1124.3 L130.9,1125.7 L132.9,1127.1 L135.0,1128.3 L137.2,1129.3 L139.5,1130.1 L141.8,1130.8 L144.2,1131.3 L146.6,1131.6 L149.0,1131.8 L151.4,1131.9 L153.7,1131.9 L156.1,1131.7 L158.5,1131.4 L160.9,1130.9 L163.2,1130.3 L165.6,1129.5 L168.0,1128.5 L170.3,1127.3 L172.6,1125.9 L174.9,1124.5 L177.2,1122.9 L179.4,1121.4 L181.7,1119.7 L184.1,1117.9 L186.4,1116.0 L188.7,1114.1 L191.0,1112.2 L193.1,1110.4 L195.2,1108.6 L197.3,1106.8 L199.4,1104.9 L201.3,1103.2 L203.0,1101.7 L204.5,1100.4 L205.6,1099.6 L206.5,1098.9 L207.2,1098.5 L207.8,1098.2 L208.3,1098.0 L208.7,1097.8 L208.3,1096.8 L207.9,1097.0 L207.4,1097.1 L206.7,1097.4 L205.9,1097.7 L204.8,1098.3 L203.5,1099.2 L202.0,1100.3 L200.1,1101.8 L198.1,1103.5 L196.0,1105.2 L193.9,1107.0 L191.7,1108.8 L189.5,1110.5 L187.2,1112.3 L184.9,1114.1 L182.6,1115.9 L180.3,1117.7 L178.0,1119.2 L175.7,1120.7 L173.4,1122.2 L171.2,1123.5 L169.0,1124.8 L166.8,1125.8 L164.6,1126.7 L162.4,1127.4 L160.2,1127.9 L158.0,1128.3 L155.8,1128.5 L153.6,1128.7 L151.4,1128.7 L149.2,1128.6 L147.0,1128.5 L144.7,1128.2 L142.5,1127.7 L140.4,1127.2 L138.4,1126.5 L136.4,1125.6 L134.4,1124.6 L132.4,1123.4 L130.5,1122.1 L128.6,1120.7 L126.8,1119.3 L125.1,1117.9 L123.5,1116.3 L121.9,1114.7 L120.4,1113.1 L118.9,1111.4 L117.4,1109.6 L115.9,1107.8 L114.4,1105.9 L113.0,1103.9 L111.6,1101.9 L110.3,1099.9 L109.1,1098.0 L108.0,1096.0 L107.1,1094.0 L106.2,1092.1 L105.3,1090.1 L104.6,1088.1 L103.9,1086.2 L103.2,1084.1 L102.6,1081.9 L102.1,1079.7 L101.6,1077.7 L101.2,1076.0 L100.9,1074.8 Z" fill="#1a1a1a"/>
<path d="M196.7,1094.5 L196.1,1095.1 L195.4,1095.9 L194.5,1096.8 L193.5,1097.8 L192.5,1098.8 L191.5,1099.8 L190.5,1100.8 L189.7,1101.7 L188.7,1102.6 L187.7,1103.6 L186.5,1104.7 L185.0,1105.9 L183.1,1107.3 L181.0,1108.9 L178.6,1110.6 L176.1,1112.3 L173.7,1113.8 L171.3,1115.2 L169.1,1116.4 L166.9,1117.4 L164.7,1118.3 L162.4,1119.2 L160.2,1119.9 L158.0,1120.4 L155.8,1120.9 L153.6,1121.2 L151.4,1121.4 L149.1,1121.5 L146.9,1121.4 L144.7,1121.3 L142.5,1121.1 L140.3,1120.7 L138.1,1120.2 L135.9,1119.7 L133.7,1118.9 L131.4,1118.1 L129.1,1117.1 L126.8,1116.0 L124.4,1114.7 L122.1,1113.4 L119.9,1111.9 L117.9,1110.2 L116.1,1108.4 L114.3,1106.4 L112.6,1104.1 L111.1,1101.8 L109.6,1099.5 L108.2,1097.2 L107.0,1094.9 L105.8,1092.4 L104.8,1090.0 L103.8,1087.5 L103.0,1085.3 L102.3,1083.2 L101.8,1081.3 L101.4,1079.5 L101.2,1077.9 L101.0,1076.4 L100.9,1075.2 L100.7,1074.3 L100.5,1074.3 L100.5,1075.2 L100.6,1076.5 L100.7,1077.9 L100.9,1079.6 L101.2,1081.5 L101.7,1083.4 L102.3,1085.5 L103.0,1087.8 L103.9,1090.3 L104.9,1092.8 L106.0,1095.4 L107.2,1097.8 L108.5,1100.2 L109.9,1102.6 L111.4,1105.0 L113.0,1107.3 L114.8,1109.5 L116.7,1111.6 L118.8,1113.4 L121.0,1115.0 L123.4,1116.5 L125.8,1117.8 L128.2,1119.0 L130.6,1120.1 L132.9,1121.1 L135.2,1121.8 L137.5,1122.5 L139.8,1123.0 L142.2,1123.4 L144.5,1123.7 L146.8,1123.9 L149.2,1123.9 L151.5,1123.8 L153.9,1123.6 L156.2,1123.2 L158.6,1122.8 L160.9,1122.2 L163.2,1121.4 L165.5,1120.5 L167.8,1119.6 L170.2,1118.4 L172.5,1117.2 L174.9,1115.8 L177.3,1114.1 L179.8,1112.3 L182.2,1110.5 L184.3,1108.8 L186.2,1107.3 L187.7,1106.0 L188.9,1104.9 L189.9,1103.8 L190.8,1102.7 L191.6,1101.8 L192.5,1100.8 L193.4,1099.7 L194.4,1098.6 L195.3,1097.5 L196.1,1096.5 L196.8,1095.7 L197.3,1095.1 Z" fill="#1a1a1a"/>
<path d="M197.6,1144.3 L197.1,1144.7 L196.4,1145.1 L195.6,1145.7 L194.7,1146.3 L193.8,1147.0 L193.2,1147.7 L192.7,1148.4 L192.3,1149.1 L192.0,1149.9 L191.8,1150.8 L191.8,1151.7 L192.2,1152.5 L192.8,1153.3 L193.6,1153.8 L194.5,1154.2 L195.5,1154.6 L196.5,1154.8 L197.5,1154.9 L198.6,1154.8 L199.8,1154.5 L200.9,1154.1 L202.0,1153.8 L202.9,1153.4 L203.4,1153.2 L202.6,1150.8 L201.9,1151.0 L201.1,1151.4 L200.1,1151.8 L199.1,1152.2 L198.2,1152.4 L197.5,1152.5 L196.8,1152.4 L196.1,1152.3 L195.4,1152.0 L194.8,1151.7 L194.4,1151.4 L194.2,1151.3 L194.2,1151.2 L194.1,1150.9 L194.2,1150.5 L194.3,1150.0 L194.5,1149.4 L194.8,1148.9 L195.2,1148.3 L195.8,1147.6 L196.5,1146.9 L197.3,1146.3 L197.9,1145.7 L198.4,1145.3 Z" fill="#1a1a1a"/>
<path d="M203.9,1153.1 L204.4,1152.7 L205.2,1152.1 L206.1,1151.4 L207.1,1150.7 L208.2,1149.8 L209.1,1148.9 L210.0,1148.1 L210.8,1147.3 L211.6,1146.4 L212.5,1145.3 L213.4,1144.1 L214.4,1142.7 L215.5,1141.0 L216.7,1139.0 L217.9,1136.8 L219.1,1134.7 L220.2,1132.6 L221.3,1130.7 L222.3,1128.9 L223.2,1127.1 L224.0,1125.5 L224.9,1124.0 L225.7,1122.8 L226.5,1121.7 L227.4,1120.8 L228.2,1120.2 L228.9,1119.7 L229.7,1119.3 L230.8,1119.0 L232.3,1118.7 L234.2,1118.5 L236.5,1118.4 L239.1,1118.5 L241.9,1118.6 L244.6,1118.6 L247.1,1118.5 L249.4,1118.3 L251.6,1118.2 L253.8,1118.0 L255.9,1117.7 L258.0,1117.2 L260.0,1116.5 L261.9,1115.5 L263.6,1114.4 L265.2,1113.2 L266.7,1111.7 L268.1,1110.1 L269.5,1108.3 L270.8,1106.3 L271.9,1104.1 L272.9,1101.8 L273.9,1099.3 L275.0,1096.8 L276.2,1094.0 L277.6,1091.0 L279.1,1087.6 L280.7,1084.0 L282.3,1080.5 L284.0,1077.3 L285.6,1074.4 L287.3,1072.0 L288.9,1069.8 L290.5,1067.8 L292.2,1066.0 L294.1,1064.2 L296.1,1062.6 L298.4,1061.0 L300.8,1059.5 L303.4,1058.1 L306.1,1056.8 L309.0,1055.6 L311.9,1054.5 L315.0,1053.5 L318.3,1052.5 L321.7,1051.7 L325.2,1050.9 L328.7,1050.3 L332.1,1049.7 L335.6,1049.2 L339.2,1048.9 L342.8,1048.6 L346.3,1048.4 L349.6,1048.3 L352.4,1048.2 L354.8,1048.1 L357.0,1048.1 L358.8,1048.2 L360.5,1048.2 L361.9,1048.3 L363.2,1048.4 L364.3,1048.5 L365.1,1048.6 L365.7,1048.7 L366.1,1048.8 L366.5,1048.9 L366.9,1049.0 L367.1,1048.2 L366.8,1048.1 L366.5,1047.9 L366.0,1047.7 L365.3,1047.4 L364.5,1047.2 L363.4,1047.0 L362.1,1046.8 L360.6,1046.6 L359.0,1046.4 L357.1,1046.2 L354.9,1046.1 L352.4,1046.0 L349.5,1046.0 L346.2,1046.0 L342.7,1046.1 L339.0,1046.3 L335.3,1046.5 L331.7,1046.9 L328.2,1047.4 L324.6,1048.0 L321.1,1048.7 L317.5,1049.5 L314.1,1050.5 L310.9,1051.5 L307.8,1052.6 L304.8,1053.8 L301.9,1055.1 L299.2,1056.6 L296.5,1058.1 L294.1,1059.8 L291.8,1061.6 L289.8,1063.5 L287.9,1065.5 L286.1,1067.6 L284.3,1069.9 L282.6,1072.6 L280.8,1075.6 L279.1,1079.0 L277.4,1082.5 L275.8,1086.1 L274.4,1089.5 L273.0,1092.6 L271.7,1095.3 L270.6,1097.9 L269.6,1100.4 L268.6,1102.6 L267.6,1104.5 L266.5,1106.3 L265.3,1107.9 L264.1,1109.2 L262.8,1110.4 L261.5,1111.5 L260.1,1112.4 L258.6,1113.1 L257.0,1113.7 L255.2,1114.1 L253.3,1114.4 L251.3,1114.6 L249.1,1114.8 L246.9,1114.9 L244.5,1115.0 L241.9,1115.0 L239.2,1114.9 L236.5,1114.8 L234.0,1114.9 L231.7,1115.1 L229.9,1115.5 L228.4,1116.0 L227.1,1116.6 L226.0,1117.3 L224.9,1118.2 L223.9,1119.3 L222.8,1120.6 L221.8,1122.1 L220.9,1123.8 L220.0,1125.5 L219.1,1127.2 L218.1,1128.9 L217.1,1130.9 L215.9,1133.0 L214.8,1135.2 L213.6,1137.3 L212.6,1139.2 L211.6,1140.9 L210.7,1142.2 L209.9,1143.3 L209.1,1144.2 L208.4,1145.0 L207.7,1145.8 L206.9,1146.7 L206.1,1147.5 L205.2,1148.3 L204.3,1149.1 L203.4,1149.8 L202.7,1150.4 L202.1,1150.9 Z" fill="#1a1a1a"/>
<path d="M337.6,963.9 L337.0,963.3 L336.2,962.4 L335.3,961.5 L334.3,960.4 L333.3,959.2 L332.5,958.0 L331.7,956.6 L330.9,955.2 L330.1,953.7 L329.4,952.1 L328.8,950.5 L328.4,949.1 L328.1,947.6 L327.9,946.0 L327.8,944.5 L327.9,943.0 L328.1,941.7 L328.4,940.6 L328.8,939.8 L329.3,939.0 L329.9,938.3 L330.7,937.7 L331.4,937.2 L332.2,936.8 L332.9,936.5 L333.7,936.3 L334.5,936.2 L335.4,936.2 L336.2,936.3 L337.1,936.5 L338.1,936.7 L339.1,937.2 L340.1,937.7 L341.2,938.3 L342.1,939.0 L343.0,939.7 L343.9,940.6 L344.7,941.7 L345.5,942.9 L346.3,944.1 L347.0,945.4 L347.7,946.7 L348.2,947.9 L348.7,949.2 L349.2,950.6 L349.7,952.1 L350.3,953.5 L351.1,954.8 L351.8,955.8 L352.6,956.7 L353.4,957.5 L354.5,958.2 L355.8,958.9 L357.4,959.5 L359.5,960.1 L361.9,960.7 L364.6,961.3 L367.4,961.8 L370.0,962.4 L372.5,963.0 L374.9,963.6 L377.3,964.1 L379.6,964.7 L381.8,965.3 L383.8,966.1 L385.8,966.9 L387.7,968.0 L389.6,969.3 L391.4,970.7 L393.2,972.1 L394.9,973.5 L396.6,974.9 L398.2,976.1 L399.7,977.3 L401.2,978.5 L402.5,979.6 L403.7,980.7 L404.9,981.7 L405.9,982.6 L406.9,983.5 L407.7,984.3 L408.4,985.0 L409.0,985.7 L409.3,986.4 L409.6,987.1 L409.7,987.9 L409.6,988.7 L409.5,989.5 L409.2,990.3 L408.8,991.2 L408.2,992.1 L407.4,993.1 L406.4,994.1 L405.4,995.1 L404.5,995.9 L404.0,996.4 L404.6,997.2 L405.2,996.6 L406.1,995.8 L407.1,994.9 L408.2,993.8 L409.1,992.8 L409.8,991.8 L410.3,990.9 L410.8,989.9 L411.1,988.9 L411.2,987.9 L411.2,986.9 L411.1,985.8 L410.6,984.8 L410.0,983.8 L409.3,982.8 L408.5,981.9 L407.5,980.9 L406.5,979.9 L405.4,978.8 L404.2,977.7 L402.9,976.5 L401.4,975.2 L399.9,974.0 L398.4,972.7 L396.8,971.4 L395.1,969.9 L393.2,968.4 L391.3,966.9 L389.3,965.5 L387.2,964.3 L385.0,963.3 L382.7,962.5 L380.3,961.8 L378.0,961.2 L375.6,960.6 L373.3,960.0 L370.7,959.4 L367.9,958.9 L365.2,958.3 L362.6,957.8 L360.3,957.3 L358.4,956.7 L357.0,956.1 L356.1,955.6 L355.4,955.1 L354.9,954.6 L354.3,953.9 L353.7,953.0 L353.2,952.1 L352.8,950.9 L352.3,949.6 L351.9,948.1 L351.4,946.6 L350.7,945.1 L350.0,943.8 L349.2,942.4 L348.4,941.0 L347.4,939.7 L346.4,938.4 L345.4,937.3 L344.2,936.3 L343.0,935.4 L341.7,934.7 L340.4,934.1 L339.1,933.7 L337.9,933.3 L336.6,933.1 L335.4,933.1 L334.2,933.1 L333.0,933.3 L331.9,933.7 L330.8,934.2 L329.8,934.8 L328.9,935.5 L328.0,936.4 L327.2,937.5 L326.5,938.6 L326.0,940.0 L325.8,941.4 L325.7,942.9 L325.8,944.6 L325.9,946.3 L326.2,947.9 L326.6,949.5 L327.2,951.1 L327.9,952.7 L328.8,954.3 L329.7,955.9 L330.6,957.3 L331.5,958.6 L332.5,959.9 L333.6,961.0 L334.7,962.1 L335.7,963.0 L336.6,963.7 L337.2,964.3 Z" fill="#1a1a1a"/>
<path d="M404.1,996.3 L403.1,996.7 L401.6,997.2 L400.0,997.9 L398.1,998.5 L396.2,999.1 L394.5,999.6 L392.8,1000.0 L391.0,1000.3 L389.1,1000.6 L387.3,1000.9 L385.4,1001.2 L383.5,1001.5 L381.7,1001.9 L379.9,1002.2 L378.1,1002.5 L376.2,1002.9 L374.2,1003.4 L372.3,1004.1 L370.3,1005.0 L368.4,1006.1 L366.4,1007.2 L364.5,1008.4 L362.7,1009.7 L361.0,1010.8 L359.4,1011.9 L357.9,1013.1 L356.4,1014.2 L354.9,1015.4 L353.6,1016.6 L352.4,1018.0 L351.4,1019.4 L350.5,1020.8 L349.7,1022.3 L349.1,1023.8 L348.5,1025.2 L348.1,1026.5 L347.7,1027.9 L347.3,1029.3 L347.0,1030.8 L346.8,1032.2 L346.8,1033.6 L347.2,1035.0 L347.9,1036.1 L348.8,1037.0 L349.9,1037.7 L351.1,1038.2 L352.3,1038.6 L353.5,1039.0 L354.9,1039.2 L356.4,1039.2 L358.0,1039.2 L359.5,1039.1 L360.8,1039.0 L362.0,1038.9 L363.0,1038.8 L364.0,1038.7 L364.8,1038.6 L365.5,1038.5 L366.1,1038.5 L366.5,1038.4 L366.5,1037.4 L366.0,1037.4 L365.4,1037.4 L364.7,1037.4 L363.9,1037.4 L363.0,1037.3 L362.0,1037.3 L360.8,1037.3 L359.4,1037.3 L357.9,1037.3 L356.5,1037.2 L355.2,1037.1 L354.1,1036.8 L353.0,1036.5 L352.0,1036.1 L351.1,1035.6 L350.4,1035.1 L349.9,1034.6 L349.6,1034.0 L349.6,1033.4 L349.7,1032.5 L349.9,1031.4 L350.3,1030.2 L350.8,1028.9 L351.3,1027.7 L351.8,1026.4 L352.3,1025.1 L352.9,1023.8 L353.6,1022.6 L354.3,1021.4 L355.2,1020.2 L356.2,1019.1 L357.3,1018.0 L358.6,1016.9 L360.0,1015.8 L361.4,1014.7 L363.0,1013.6 L364.6,1012.4 L366.4,1011.2 L368.1,1010.0 L370.0,1008.8 L371.8,1007.8 L373.5,1006.9 L375.2,1006.2 L376.9,1005.6 L378.6,1005.2 L380.4,1004.7 L382.2,1004.3 L384.1,1003.9 L385.9,1003.4 L387.7,1003.0 L389.5,1002.6 L391.4,1002.2 L393.2,1001.7 L394.9,1001.2 L396.7,1000.5 L398.6,999.8 L400.4,999.0 L402.1,998.3 L403.5,997.7 L404.5,997.3 Z" fill="#1a1a1a"/>
<path d="M349.1,987.9 L349.3,987.3 L349.5,986.4 L349.8,985.4 L350.2,984.4 L350.5,983.5 L350.9,982.9 L351.2,982.3 L351.6,981.8 L352.1,981.3 L352.5,980.9 L352.9,980.5 L353.3,980.3 L353.8,980.0 L354.3,979.8 L354.8,979.7 L355.3,979.6 L355.7,979.5 L356.1,979.6 L356.6,979.7 L357.2,979.9 L357.8,980.2 L358.4,980.6 L359.0,981.0 L359.5,981.4 L359.9,981.9 L360.4,982.5 L360.8,983.2 L361.1,983.9 L361.4,984.5 L361.6,984.9 L362.4,984.7 L362.3,984.2 L362.2,983.5 L362.0,982.7 L361.8,981.9 L361.5,981.0 L361.1,980.2 L360.6,979.5 L360.0,978.8 L359.3,978.1 L358.6,977.5 L357.7,977.0 L356.9,976.6 L355.9,976.5 L355.0,976.4 L354.1,976.6 L353.2,976.8 L352.4,977.1 L351.7,977.5 L351.0,978.0 L350.3,978.6 L349.7,979.3 L349.2,980.0 L348.7,980.8 L348.3,981.7 L348.0,982.8 L347.9,983.9 L347.8,985.1 L347.8,986.2 L347.7,987.0 L347.7,987.7 Z" fill="#1a1a1a"/>
<path d="M159.0,1063.8 L159.3,1063.8 L159.7,1063.8 L160.1,1063.8 L160.7,1063.8 L161.3,1063.9 L162.0,1064.1 L162.8,1064.4 L163.7,1064.8 L164.8,1065.2 L165.8,1065.7 L166.9,1066.2 L168.0,1066.7 L169.1,1067.2 L170.2,1067.7 L171.4,1068.2 L172.6,1068.7 L173.8,1069.2 L175.0,1069.6 L176.3,1070.0 L177.6,1070.5 L179.0,1070.9 L180.3,1071.2 L181.6,1071.5 L182.8,1071.7 L183.9,1071.8 L184.9,1071.8 L185.8,1071.7 L186.7,1071.6 L187.5,1071.4 L188.3,1071.1 L189.0,1070.7 L189.7,1070.0 L190.3,1069.4 L190.9,1068.7 L191.4,1068.1 L191.7,1067.7" fill="none" stroke="#1a1a1a" stroke-width="1.0" stroke-linecap="round"/>
<path d="M191.7,1067.7 L192.2,1068.1 L193.0,1068.6 L193.8,1069.2 L194.8,1070.0 L195.7,1070.8 L196.5,1071.8 L197.3,1072.9 L198.1,1074.1 L199.0,1075.5 L199.7,1076.9 L200.3,1078.4 L200.8,1079.8 L201.1,1081.3 L201.2,1082.9 L201.2,1084.5 L201.1,1086.1 L200.9,1087.6 L200.6,1088.9 L200.2,1090.1 L199.5,1091.3 L198.8,1092.4 L198.1,1093.4 L197.4,1094.2 L197.0,1094.8" fill="none" stroke="#1a1a1a" stroke-width="1.0" stroke-linecap="round"/>
<path d="M208.5,1097.3 L209.1,1097.3 L209.9,1097.2 L210.9,1097.1 L211.9,1097.1 L213.0,1097.0 L214.0,1097.1 L215.0,1097.2 L215.9,1097.4 L216.9,1097.5 L217.9,1097.8 L218.9,1098.1 L220.0,1098.5 L221.2,1099.0 L222.6,1099.5 L224.0,1100.2 L225.4,1100.8 L226.6,1101.6 L227.5,1102.3 L228.2,1103.1 L228.7,1104.0 L229.1,1105.0 L229.3,1105.9 L229.4,1106.8 L229.3,1107.5 L229.0,1108.1 L228.4,1108.6 L227.6,1109.0 L226.8,1109.4 L225.9,1109.7 L225.2,1110.1 L224.6,1110.4 L223.9,1110.6 L223.3,1110.9 L222.7,1111.2 L222.0,1111.6 L221.3,1112.3 L220.5,1113.3 L219.7,1114.5 L218.8,1115.9 L217.9,1117.4 L216.9,1118.9 L216.0,1120.3 L215.0,1121.7 L214.0,1123.1 L213.0,1124.5 L212.0,1126.0 L211.1,1127.4 L210.2,1128.8 L209.4,1130.2 L208.7,1131.6 L208.1,1133.0 L207.4,1134.4 L206.7,1135.6 L206.0,1136.8 L205.2,1137.8 L204.2,1138.7 L203.3,1139.5 L202.4,1140.3 L201.5,1141.1 L200.8,1141.8 L200.3,1142.5 L199.9,1143.3 L199.6,1144.0 L199.3,1144.6 L199.0,1145.2 L198.5,1145.8 L197.8,1146.3 L197.0,1146.8 L196.1,1147.3 L195.2,1147.7 L194.5,1148.0 L194.0,1148.3" fill="none" stroke="#1a1a1a" stroke-width="1.0" stroke-linecap="round"/>
<path d="M366.5,1037.9 L366.9,1037.7 L367.4,1037.5 L368.0,1037.2 L368.7,1036.9 L369.3,1036.6 L370.0,1036.3 L370.7,1036.0 L371.4,1035.7 L372.1,1035.5 L372.8,1035.2 L373.4,1035.0 L374.0,1034.9 L374.6,1034.9 L375.1,1034.9 L375.7,1035.0 L376.1,1035.2 L376.4,1035.4 L376.5,1035.6 L376.2,1035.9 L375.5,1036.3 L374.7,1036.7 L373.9,1037.1 L373.4,1037.4 L373.5,1037.7 L374.3,1037.9 L375.7,1037.9 L377.5,1038.0 L379.2,1038.0 L380.6,1038.1 L381.5,1038.3 L381.6,1038.6 L381.2,1039.0 L380.5,1039.4 L379.7,1039.9 L379.2,1040.4 L379.0,1040.8 L379.4,1041.2 L380.2,1041.7 L381.2,1042.1 L382.2,1042.6 L382.8,1043.0 L383.0,1043.3 L382.5,1043.5 L381.4,1043.7 L380.0,1043.8 L378.7,1044.0 L377.6,1044.2 L377.0,1044.5 L377.1,1045.0 L377.8,1045.7 L378.8,1046.5 L379.7,1047.2 L380.4,1047.9 L380.5,1048.3 L380.0,1048.4 L379.2,1048.4 L378.1,1048.2 L376.8,1048.0 L375.6,1047.9 L374.5,1047.9 L373.5,1048.1 L372.6,1048.5 L371.7,1049.0 L370.8,1049.4 L369.9,1049.7 L369.0,1049.9 L368.1,1049.9 L367.1,1049.7 L366.2,1049.4 L365.3,1049.1 L364.5,1048.8 L364.0,1048.6" fill="none" stroke="#222" stroke-width="0.7" stroke-linecap="round"/>
<path d="M398.8,977.9 L396.1,954.7" stroke="#444" stroke-width="0.5"/>
<path d="M401.5,977.3 L399.8,952.8" stroke="#444" stroke-width="0.5"/>
<path d="M404.3,976.6 L405.7,953.3" stroke="#444" stroke-width="0.5"/>
<path d="M407.0,975.2 L411.1,956.1" stroke="#444" stroke-width="0.5"/>
<path d="M394.7,971.1 L389.3,961.5" stroke="#444" stroke-width="0.5"/>
<path d="M394.7,997.0 L378.3,1021.6" stroke="#444" stroke-width="0.5"/>
<path d="M393.5,997.8 L382.4,1024.3" stroke="#444" stroke-width="0.5"/>
<path d="M394.8,998.3 L386.5,1025.0" stroke="#444" stroke-width="0.5"/>
<path d="M395.5,998.3 L394.7,1021.6" stroke="#444" stroke-width="0.5"/>
<path d="M392.5,996.8 L372.9,1016.1" stroke="#444" stroke-width="0.5"/>
<ellipse cx="384.5" cy="986.1" rx="3.2" ry="2" fill="#111" transform="rotate(-15 384.5 986.1)"/>
<path d="M302.6,997.8 L314.5,995.1 L316.9,997.8 L308,1006.8 L304.8,1005.3Z" fill="#7b4b2e"/>
<path d="M310.5,1007.8 L319.2,1001.1 L321,1004.3 L315,1016.8 L311.5,1014.8Z" fill="#7b4b2e"/>
<path d="M355.7,895.7 L384.3,1031.7 L212.8,1164.2 L184.4,1028.1 Z" fill="none" stroke="#e8141c" stroke-width="1.3"/>
<path d="M367,965.5 L199.6,1094.4" stroke="#e8141c" stroke-width="1.8" stroke-dasharray="6.5,4"/>
<text x="175.5" y="943.8" font-size="27.5" fill="#9a6532" textLength="48.2" lengthAdjust="spacingAndGlyphs">BAT</text>
<polygon points="229.5,941.8 291.3,994.0 284.1,995.6 300.7,999.2 294.4,983.4 294.0,990.8 232.3,938.6" fill="#9a6532"/>
<rect x="1254.2" y="522.6" width="28.0" height="315.4" fill="url(#jet)" stroke="#000" stroke-width="2"/>
<path d="M1281.2,680.3 h-7" stroke="#000" stroke-width="1.6"/>
<text x="1295.2" y="530.2" font-size="24" textLength="28.8" lengthAdjust="spacingAndGlyphs">60</text>
<text x="1295.2" y="687.1" font-size="24" textLength="28.8" lengthAdjust="spacingAndGlyphs">30</text>
<text x="1295.2" y="843.8" font-size="24" textLength="14.9" lengthAdjust="spacingAndGlyphs">0</text>
<rect x="1678.4" y="523.6" width="28.9" height="314.4" fill="url(#jet)" stroke="#000" stroke-width="2"/>
<path d="M1706.3,680.8 h-7" stroke="#000" stroke-width="1.6"/>
<text x="1720.3" y="531.2" font-size="24" textLength="14.9" lengthAdjust="spacingAndGlyphs">4</text>
<text x="1720.3" y="687.6" font-size="24" textLength="14.9" lengthAdjust="spacingAndGlyphs">2</text>
<text x="1720.3" y="843.8" font-size="24" textLength="14.9" lengthAdjust="spacingAndGlyphs">0</text>
<rect x="2104.7" y="523.6" width="28.6" height="314.4" fill="url(#jet)" stroke="#000" stroke-width="2"/>
<path d="M2132.3,680.8 h-7" stroke="#000" stroke-width="1.6"/>
<text x="2146.3" y="531.2" font-size="24" textLength="14.9" lengthAdjust="spacingAndGlyphs">4</text>
<text x="2146.3" y="687.6" font-size="24" textLength="14.9" lengthAdjust="spacingAndGlyphs">2</text>
<text x="2146.3" y="843.8" font-size="24" textLength="14.9" lengthAdjust="spacingAndGlyphs">0</text>
<rect x="1253.9" y="916.6" width="28.7" height="315.2" fill="url(#jet)" stroke="#000" stroke-width="2"/>
<path d="M1281.6,1074.2 h-7" stroke="#000" stroke-width="1.6"/>
<text x="1295.6" y="924.2" font-size="24" textLength="28.8" lengthAdjust="spacingAndGlyphs">60</text>
<text x="1295.6" y="1081.0" font-size="24" textLength="28.8" lengthAdjust="spacingAndGlyphs">30</text>
<text x="1295.6" y="1237.6" font-size="24" textLength="14.9" lengthAdjust="spacingAndGlyphs">0</text>
<rect x="1678.6" y="917.5" width="28.7" height="314.3" fill="url(#jet)" stroke="#000" stroke-width="2"/>
<path d="M1706.3,1074.7 h-7" stroke="#000" stroke-width="1.6"/>
<text x="1720.3" y="925.1" font-size="24" textLength="14.9" lengthAdjust="spacingAndGlyphs">4</text>
<text x="1720.3" y="1081.5" font-size="24" textLength="14.9" lengthAdjust="spacingAndGlyphs">2</text>
<text x="1720.3" y="1237.6" font-size="24" textLength="14.9" lengthAdjust="spacingAndGlyphs">0</text>
<rect x="2104.7" y="917.5" width="28.8" height="314.3" fill="url(#jet)" stroke="#000" stroke-width="2"/>
<path d="M2132.5,1074.7 h-7" stroke="#000" stroke-width="1.6"/>
<text x="2146.5" y="925.1" font-size="24" textLength="14.9" lengthAdjust="spacingAndGlyphs">4</text>
<text x="2146.5" y="1081.5" font-size="24" textLength="14.9" lengthAdjust="spacingAndGlyphs">2</text>
<text x="2146.5" y="1237.6" font-size="24" textLength="14.9" lengthAdjust="spacingAndGlyphs">0</text>
</svg></body></html>
